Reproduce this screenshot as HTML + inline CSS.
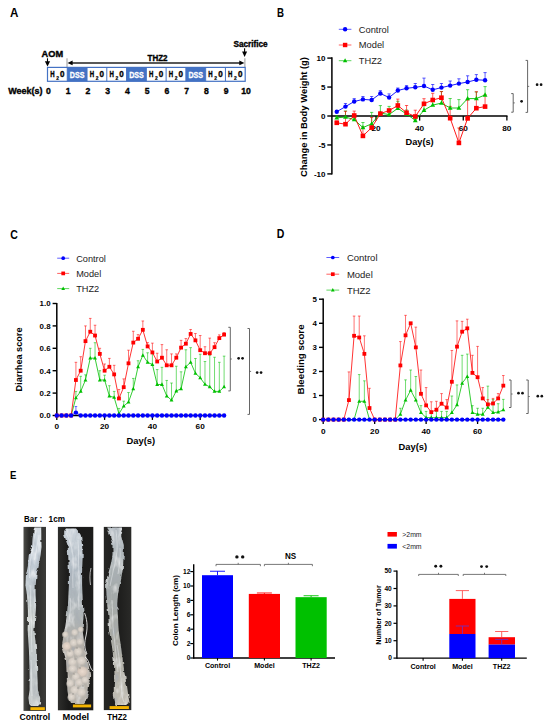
<!DOCTYPE html>
<html><head><meta charset="utf-8"><style>
html,body{margin:0;padding:0;background:#fff;}
body{width:550px;height:727px;overflow:hidden;}
svg{display:block;font-family:"Liberation Sans", sans-serif;}
</style></head><body>
<svg width="550" height="727" viewBox="0 0 550 727">
<rect width="550" height="727" fill="#fff"/>
<text x="10" y="16.6" font-size="12.5" font-weight="bold" text-anchor="start" fill="#000" textLength="8.4" lengthAdjust="spacingAndGlyphs">A</text>
<text x="41.6" y="56.8" font-size="8.6" font-weight="bold" text-anchor="start" fill="#000" textLength="21.5" lengthAdjust="spacingAndGlyphs" stroke="#000" stroke-width="0.35">AOM</text>
<line x1="47.5" y1="58.3" x2="47.5" y2="62.5" stroke="#000" stroke-width="1.1"/>
<polygon points="44.9,61.2 50.1,61.2 47.5,66.6" fill="#000"/>
<text x="233.4" y="46.8" font-size="8.6" font-weight="bold" text-anchor="start" fill="#000" textLength="34.3" lengthAdjust="spacingAndGlyphs" stroke="#000" stroke-width="0.35">Sacrifice</text>
<line x1="244.6" y1="48.3" x2="244.6" y2="53" stroke="#000" stroke-width="1.1"/>
<polygon points="242.1,51.6 247.1,51.6 244.6,57" fill="#000"/>
<line x1="67" y1="58.3" x2="67" y2="67.2" stroke="#8c8c8c" stroke-width="0.9"/>
<line x1="244.9" y1="58.3" x2="244.9" y2="67.2" stroke="#8c8c8c" stroke-width="0.9"/>
<line x1="71" y1="62.9" x2="240.5" y2="62.9" stroke="#222" stroke-width="1.5"/>
<polygon points="67.5,62.9 72.6,60.6 72.6,65.2" fill="#000"/>
<polygon points="244.4,62.9 239.3,60.6 239.3,65.2" fill="#000"/>
<text x="147.5" y="60.8" font-size="8.6" font-weight="bold" text-anchor="start" fill="#000" textLength="20" lengthAdjust="spacingAndGlyphs" stroke="#000" stroke-width="0.35">THZ2</text>
<rect x="47.5" y="67.4" width="19.77" height="13.9" fill="#fff"/>
<text x="50.18" y="77.4" font-size="8.7" font-weight="bold" text-anchor="start" fill="#000" textLength="4.4" lengthAdjust="spacingAndGlyphs" stroke="#000" stroke-width="0.35">H</text>
<text x="56.18" y="79.9" font-size="4.9" font-weight="bold" text-anchor="start" fill="#000" stroke="#000" stroke-width="0.2">2</text>
<text x="59.98" y="77.4" font-size="8.7" font-weight="bold" text-anchor="start" fill="#000" textLength="4.5" lengthAdjust="spacingAndGlyphs" stroke="#000" stroke-width="0.35">0</text>
<rect x="67.27" y="67.4" width="19.77" height="13.9" fill="#4472c4"/>
<text x="77.16" y="77.5" font-size="8.8" font-weight="bold" text-anchor="middle" fill="#fff" textLength="14.6" lengthAdjust="spacingAndGlyphs" stroke="#fff" stroke-width="0.3">DSS</text>
<rect x="87.04" y="67.4" width="19.77" height="13.9" fill="#fff"/>
<text x="89.72" y="77.4" font-size="8.7" font-weight="bold" text-anchor="start" fill="#000" textLength="4.4" lengthAdjust="spacingAndGlyphs" stroke="#000" stroke-width="0.35">H</text>
<text x="95.72" y="79.9" font-size="4.9" font-weight="bold" text-anchor="start" fill="#000" stroke="#000" stroke-width="0.2">2</text>
<text x="99.52" y="77.4" font-size="8.7" font-weight="bold" text-anchor="start" fill="#000" textLength="4.5" lengthAdjust="spacingAndGlyphs" stroke="#000" stroke-width="0.35">0</text>
<rect x="106.81" y="67.4" width="19.77" height="13.9" fill="#fff"/>
<text x="109.5" y="77.4" font-size="8.7" font-weight="bold" text-anchor="start" fill="#000" textLength="4.4" lengthAdjust="spacingAndGlyphs" stroke="#000" stroke-width="0.35">H</text>
<text x="115.5" y="79.9" font-size="4.9" font-weight="bold" text-anchor="start" fill="#000" stroke="#000" stroke-width="0.2">2</text>
<text x="119.3" y="77.4" font-size="8.7" font-weight="bold" text-anchor="start" fill="#000" textLength="4.5" lengthAdjust="spacingAndGlyphs" stroke="#000" stroke-width="0.35">0</text>
<rect x="126.58" y="67.4" width="19.77" height="13.9" fill="#4472c4"/>
<text x="136.47" y="77.5" font-size="8.8" font-weight="bold" text-anchor="middle" fill="#fff" textLength="14.6" lengthAdjust="spacingAndGlyphs" stroke="#fff" stroke-width="0.3">DSS</text>
<rect x="146.35" y="67.4" width="19.77" height="13.9" fill="#fff"/>
<text x="149.03" y="77.4" font-size="8.7" font-weight="bold" text-anchor="start" fill="#000" textLength="4.4" lengthAdjust="spacingAndGlyphs" stroke="#000" stroke-width="0.35">H</text>
<text x="155.03" y="79.9" font-size="4.9" font-weight="bold" text-anchor="start" fill="#000" stroke="#000" stroke-width="0.2">2</text>
<text x="158.83" y="77.4" font-size="8.7" font-weight="bold" text-anchor="start" fill="#000" textLength="4.5" lengthAdjust="spacingAndGlyphs" stroke="#000" stroke-width="0.35">0</text>
<rect x="166.12" y="67.4" width="19.77" height="13.9" fill="#fff"/>
<text x="168.81" y="77.4" font-size="8.7" font-weight="bold" text-anchor="start" fill="#000" textLength="4.4" lengthAdjust="spacingAndGlyphs" stroke="#000" stroke-width="0.35">H</text>
<text x="174.81" y="79.9" font-size="4.9" font-weight="bold" text-anchor="start" fill="#000" stroke="#000" stroke-width="0.2">2</text>
<text x="178.6" y="77.4" font-size="8.7" font-weight="bold" text-anchor="start" fill="#000" textLength="4.5" lengthAdjust="spacingAndGlyphs" stroke="#000" stroke-width="0.35">0</text>
<rect x="185.89" y="67.4" width="19.77" height="13.9" fill="#4472c4"/>
<text x="195.77" y="77.5" font-size="8.8" font-weight="bold" text-anchor="middle" fill="#fff" textLength="14.6" lengthAdjust="spacingAndGlyphs" stroke="#fff" stroke-width="0.3">DSS</text>
<rect x="205.66" y="67.4" width="19.77" height="13.9" fill="#fff"/>
<text x="208.34" y="77.4" font-size="8.7" font-weight="bold" text-anchor="start" fill="#000" textLength="4.4" lengthAdjust="spacingAndGlyphs" stroke="#000" stroke-width="0.35">H</text>
<text x="214.34" y="79.9" font-size="4.9" font-weight="bold" text-anchor="start" fill="#000" stroke="#000" stroke-width="0.2">2</text>
<text x="218.14" y="77.4" font-size="8.7" font-weight="bold" text-anchor="start" fill="#000" textLength="4.5" lengthAdjust="spacingAndGlyphs" stroke="#000" stroke-width="0.35">0</text>
<rect x="225.43" y="67.4" width="19.77" height="13.9" fill="#fff"/>
<text x="228.12" y="77.4" font-size="8.7" font-weight="bold" text-anchor="start" fill="#000" textLength="4.4" lengthAdjust="spacingAndGlyphs" stroke="#000" stroke-width="0.35">H</text>
<text x="234.12" y="79.9" font-size="4.9" font-weight="bold" text-anchor="start" fill="#000" stroke="#000" stroke-width="0.2">2</text>
<text x="237.91" y="77.4" font-size="8.7" font-weight="bold" text-anchor="start" fill="#000" textLength="4.5" lengthAdjust="spacingAndGlyphs" stroke="#000" stroke-width="0.35">0</text>
<rect x="47.5" y="67.4" width="197.7" height="13.9" fill="none" stroke="#4472c4" stroke-width="1.2"/>
<line x1="67.27" y1="67.4" x2="67.27" y2="81.3" stroke="#4472c4" stroke-width="1"/>
<line x1="87.04" y1="67.4" x2="87.04" y2="81.3" stroke="#4472c4" stroke-width="1"/>
<line x1="106.81" y1="67.4" x2="106.81" y2="81.3" stroke="#4472c4" stroke-width="1"/>
<line x1="126.58" y1="67.4" x2="126.58" y2="81.3" stroke="#4472c4" stroke-width="1"/>
<line x1="146.35" y1="67.4" x2="146.35" y2="81.3" stroke="#4472c4" stroke-width="1"/>
<line x1="166.12" y1="67.4" x2="166.12" y2="81.3" stroke="#4472c4" stroke-width="1"/>
<line x1="185.89" y1="67.4" x2="185.89" y2="81.3" stroke="#4472c4" stroke-width="1"/>
<line x1="205.66" y1="67.4" x2="205.66" y2="81.3" stroke="#4472c4" stroke-width="1"/>
<line x1="225.43" y1="67.4" x2="225.43" y2="81.3" stroke="#4472c4" stroke-width="1"/>
<text x="8.2" y="93.6" font-size="8.6" font-weight="bold" text-anchor="start" fill="#000" textLength="34.3" lengthAdjust="spacingAndGlyphs" stroke="#000" stroke-width="0.35">Week(s)</text>
<text x="48.3" y="93.5" font-size="8.8" font-weight="bold" text-anchor="middle" fill="#000" textLength="4.8" lengthAdjust="spacingAndGlyphs" stroke="#000" stroke-width="0.35">0</text>
<text x="68.07" y="93.5" font-size="8.8" font-weight="bold" text-anchor="middle" fill="#000" textLength="4.8" lengthAdjust="spacingAndGlyphs" stroke="#000" stroke-width="0.35">1</text>
<text x="87.84" y="93.5" font-size="8.8" font-weight="bold" text-anchor="middle" fill="#000" textLength="4.8" lengthAdjust="spacingAndGlyphs" stroke="#000" stroke-width="0.35">2</text>
<text x="107.61" y="93.5" font-size="8.8" font-weight="bold" text-anchor="middle" fill="#000" textLength="4.8" lengthAdjust="spacingAndGlyphs" stroke="#000" stroke-width="0.35">3</text>
<text x="127.38" y="93.5" font-size="8.8" font-weight="bold" text-anchor="middle" fill="#000" textLength="4.8" lengthAdjust="spacingAndGlyphs" stroke="#000" stroke-width="0.35">4</text>
<text x="147.15" y="93.5" font-size="8.8" font-weight="bold" text-anchor="middle" fill="#000" textLength="4.8" lengthAdjust="spacingAndGlyphs" stroke="#000" stroke-width="0.35">5</text>
<text x="166.92" y="93.5" font-size="8.8" font-weight="bold" text-anchor="middle" fill="#000" textLength="4.8" lengthAdjust="spacingAndGlyphs" stroke="#000" stroke-width="0.35">6</text>
<text x="186.69" y="93.5" font-size="8.8" font-weight="bold" text-anchor="middle" fill="#000" textLength="4.8" lengthAdjust="spacingAndGlyphs" stroke="#000" stroke-width="0.35">7</text>
<text x="206.46" y="93.5" font-size="8.8" font-weight="bold" text-anchor="middle" fill="#000" textLength="4.8" lengthAdjust="spacingAndGlyphs" stroke="#000" stroke-width="0.35">8</text>
<text x="226.23" y="93.5" font-size="8.8" font-weight="bold" text-anchor="middle" fill="#000" textLength="4.8" lengthAdjust="spacingAndGlyphs" stroke="#000" stroke-width="0.35">9</text>
<text x="246" y="93.5" font-size="8.8" font-weight="bold" text-anchor="middle" fill="#000" textLength="9.6" lengthAdjust="spacingAndGlyphs" stroke="#000" stroke-width="0.35">10</text>
<text x="277" y="16.5" font-size="12.5" font-weight="bold" text-anchor="start" fill="#000" textLength="7" lengthAdjust="spacingAndGlyphs">B</text>
<line x1="331.9" y1="57.2" x2="331.9" y2="174.6" stroke="#000" stroke-width="1.5"/>
<line x1="327.3" y1="58.1" x2="331.9" y2="58.1" stroke="#000" stroke-width="1.4"/>
<text x="325.5" y="61" font-size="8" font-weight="bold" text-anchor="end" fill="#000">10</text>
<line x1="327.3" y1="87.05" x2="331.9" y2="87.05" stroke="#000" stroke-width="1.4"/>
<text x="325.5" y="89.95" font-size="8" font-weight="bold" text-anchor="end" fill="#000">5</text>
<line x1="327.3" y1="116" x2="331.9" y2="116" stroke="#000" stroke-width="1.4"/>
<text x="325.5" y="118.9" font-size="8" font-weight="bold" text-anchor="end" fill="#000">0</text>
<line x1="327.3" y1="144.95" x2="331.9" y2="144.95" stroke="#000" stroke-width="1.4"/>
<text x="325.5" y="147.85" font-size="8" font-weight="bold" text-anchor="end" fill="#000">-5</text>
<line x1="327.3" y1="173.9" x2="331.9" y2="173.9" stroke="#000" stroke-width="1.4"/>
<text x="325.5" y="176.8" font-size="8" font-weight="bold" text-anchor="end" fill="#000">-10</text>
<line x1="331.9" y1="116" x2="507.5" y2="116" stroke="#000" stroke-width="1.4"/>
<line x1="376.02" y1="116" x2="376.02" y2="120.6" stroke="#000" stroke-width="1.3"/>
<line x1="419.64" y1="116" x2="419.64" y2="120.6" stroke="#000" stroke-width="1.3"/>
<line x1="463.26" y1="116" x2="463.26" y2="120.6" stroke="#000" stroke-width="1.3"/>
<line x1="506.88" y1="116" x2="506.88" y2="120.6" stroke="#000" stroke-width="1.3"/>
<text x="376.02" y="130.8" font-size="7.8" font-weight="bold" text-anchor="middle" fill="#000" textLength="9.2" lengthAdjust="spacingAndGlyphs">20</text>
<text x="419.64" y="130.8" font-size="7.8" font-weight="bold" text-anchor="middle" fill="#000" textLength="9.2" lengthAdjust="spacingAndGlyphs">40</text>
<text x="463.26" y="130.8" font-size="7.8" font-weight="bold" text-anchor="middle" fill="#000" textLength="9.2" lengthAdjust="spacingAndGlyphs">60</text>
<text x="506.88" y="130.8" font-size="7.8" font-weight="bold" text-anchor="middle" fill="#000" textLength="9.2" lengthAdjust="spacingAndGlyphs">80</text>
<text x="419.6" y="144.8" font-size="9.3" font-weight="bold" text-anchor="middle" fill="#000" textLength="28.2" lengthAdjust="spacingAndGlyphs">Day(s)</text>
<text transform="translate(307.0,117) rotate(-90)" font-size="9.4" font-weight="bold" text-anchor="middle" textLength="120" lengthAdjust="spacingAndGlyphs">Change in Body Weight (g)</text>
<line x1="338.8" y1="29.3" x2="351.4" y2="29.3" stroke="#0000ff" stroke-width="0.9" stroke-opacity="0.7"/>
<circle cx="345.1" cy="29.3" r="2.2" fill="#0000ff"/>
<text x="358.8" y="32.65" font-size="9.3" text-anchor="start" fill="#222">Control</text>
<line x1="338.8" y1="45" x2="351.4" y2="45" stroke="#ff0000" stroke-width="0.9" stroke-opacity="0.7"/>
<rect x="342.9" y="42.8" width="4.4" height="4.4" fill="#ff0000"/>
<text x="358.8" y="48.35" font-size="9.3" text-anchor="start" fill="#222">Model</text>
<line x1="338.8" y1="60.7" x2="351.4" y2="60.7" stroke="#00c000" stroke-width="0.9" stroke-opacity="0.7"/>
<polygon points="345.1,58.32 342.9,62.28 347.3,62.28" fill="#00c000"/>
<text x="358.8" y="64.05" font-size="9.3" text-anchor="start" fill="#222">THZ2</text>
<line x1="336.76" y1="117.8" x2="336.76" y2="116" stroke="#00c000" stroke-width="0.8" stroke-opacity="0.8"/>
<line x1="335.16" y1="116" x2="338.36" y2="116" stroke="#00c000" stroke-width="0.8" stroke-opacity="0.8"/>
<line x1="345.49" y1="117.1" x2="345.49" y2="111" stroke="#00c000" stroke-width="0.8" stroke-opacity="0.8"/>
<line x1="343.89" y1="111" x2="347.09" y2="111" stroke="#00c000" stroke-width="0.8" stroke-opacity="0.8"/>
<line x1="354.21" y1="119.6" x2="354.21" y2="117" stroke="#00c000" stroke-width="0.8" stroke-opacity="0.8"/>
<line x1="352.61" y1="117" x2="355.81" y2="117" stroke="#00c000" stroke-width="0.8" stroke-opacity="0.8"/>
<line x1="362.93" y1="127.6" x2="362.93" y2="122.5" stroke="#00c000" stroke-width="0.8" stroke-opacity="0.8"/>
<line x1="361.33" y1="122.5" x2="364.53" y2="122.5" stroke="#00c000" stroke-width="0.8" stroke-opacity="0.8"/>
<line x1="371.66" y1="123.8" x2="371.66" y2="112.4" stroke="#00c000" stroke-width="0.8" stroke-opacity="0.8"/>
<line x1="370.06" y1="112.4" x2="373.26" y2="112.4" stroke="#00c000" stroke-width="0.8" stroke-opacity="0.8"/>
<line x1="380.38" y1="113.2" x2="380.38" y2="105.6" stroke="#00c000" stroke-width="0.8" stroke-opacity="0.8"/>
<line x1="378.78" y1="105.6" x2="381.98" y2="105.6" stroke="#00c000" stroke-width="0.8" stroke-opacity="0.8"/>
<line x1="389.11" y1="114.5" x2="389.11" y2="106.4" stroke="#00c000" stroke-width="0.8" stroke-opacity="0.8"/>
<line x1="387.51" y1="106.4" x2="390.71" y2="106.4" stroke="#00c000" stroke-width="0.8" stroke-opacity="0.8"/>
<line x1="397.83" y1="108.3" x2="397.83" y2="101.3" stroke="#00c000" stroke-width="0.8" stroke-opacity="0.8"/>
<line x1="396.23" y1="101.3" x2="399.43" y2="101.3" stroke="#00c000" stroke-width="0.8" stroke-opacity="0.8"/>
<line x1="406.55" y1="114" x2="406.55" y2="110" stroke="#00c000" stroke-width="0.8" stroke-opacity="0.8"/>
<line x1="404.95" y1="110" x2="408.15" y2="110" stroke="#00c000" stroke-width="0.8" stroke-opacity="0.8"/>
<line x1="415.28" y1="120.4" x2="415.28" y2="116" stroke="#00c000" stroke-width="0.8" stroke-opacity="0.8"/>
<line x1="413.68" y1="116" x2="416.88" y2="116" stroke="#00c000" stroke-width="0.8" stroke-opacity="0.8"/>
<line x1="424" y1="110.2" x2="424" y2="105" stroke="#00c000" stroke-width="0.8" stroke-opacity="0.8"/>
<line x1="422.4" y1="105" x2="425.6" y2="105" stroke="#00c000" stroke-width="0.8" stroke-opacity="0.8"/>
<line x1="432.73" y1="105.1" x2="432.73" y2="100" stroke="#00c000" stroke-width="0.8" stroke-opacity="0.8"/>
<line x1="431.13" y1="100" x2="434.33" y2="100" stroke="#00c000" stroke-width="0.8" stroke-opacity="0.8"/>
<line x1="441.45" y1="103.1" x2="441.45" y2="91.5" stroke="#00c000" stroke-width="0.8" stroke-opacity="0.8"/>
<line x1="439.85" y1="91.5" x2="443.05" y2="91.5" stroke="#00c000" stroke-width="0.8" stroke-opacity="0.8"/>
<line x1="450.17" y1="108" x2="450.17" y2="98.5" stroke="#00c000" stroke-width="0.8" stroke-opacity="0.8"/>
<line x1="448.57" y1="98.5" x2="451.77" y2="98.5" stroke="#00c000" stroke-width="0.8" stroke-opacity="0.8"/>
<line x1="458.9" y1="108" x2="458.9" y2="99.6" stroke="#00c000" stroke-width="0.8" stroke-opacity="0.8"/>
<line x1="457.3" y1="99.6" x2="460.5" y2="99.6" stroke="#00c000" stroke-width="0.8" stroke-opacity="0.8"/>
<line x1="467.62" y1="98.6" x2="467.62" y2="89.7" stroke="#00c000" stroke-width="0.8" stroke-opacity="0.8"/>
<line x1="466.02" y1="89.7" x2="469.22" y2="89.7" stroke="#00c000" stroke-width="0.8" stroke-opacity="0.8"/>
<line x1="476.35" y1="98.6" x2="476.35" y2="92" stroke="#00c000" stroke-width="0.8" stroke-opacity="0.8"/>
<line x1="474.75" y1="92" x2="477.95" y2="92" stroke="#00c000" stroke-width="0.8" stroke-opacity="0.8"/>
<line x1="485.07" y1="94.9" x2="485.07" y2="86.6" stroke="#00c000" stroke-width="0.8" stroke-opacity="0.8"/>
<line x1="483.47" y1="86.6" x2="486.67" y2="86.6" stroke="#00c000" stroke-width="0.8" stroke-opacity="0.8"/>
<line x1="336.76" y1="122.8" x2="336.76" y2="121" stroke="#ff0000" stroke-width="0.8" stroke-opacity="0.8"/>
<line x1="335.16" y1="121" x2="338.36" y2="121" stroke="#ff0000" stroke-width="0.8" stroke-opacity="0.8"/>
<line x1="345.49" y1="124.2" x2="345.49" y2="111.3" stroke="#ff0000" stroke-width="0.8" stroke-opacity="0.8"/>
<line x1="343.89" y1="111.3" x2="347.09" y2="111.3" stroke="#ff0000" stroke-width="0.8" stroke-opacity="0.8"/>
<line x1="354.21" y1="115.5" x2="354.21" y2="111.1" stroke="#ff0000" stroke-width="0.8" stroke-opacity="0.8"/>
<line x1="352.61" y1="111.1" x2="355.81" y2="111.1" stroke="#ff0000" stroke-width="0.8" stroke-opacity="0.8"/>
<line x1="362.93" y1="135.9" x2="362.93" y2="127" stroke="#ff0000" stroke-width="0.8" stroke-opacity="0.8"/>
<line x1="361.33" y1="127" x2="364.53" y2="127" stroke="#ff0000" stroke-width="0.8" stroke-opacity="0.8"/>
<line x1="371.66" y1="127.6" x2="371.66" y2="117.5" stroke="#ff0000" stroke-width="0.8" stroke-opacity="0.8"/>
<line x1="370.06" y1="117.5" x2="373.26" y2="117.5" stroke="#ff0000" stroke-width="0.8" stroke-opacity="0.8"/>
<line x1="397.83" y1="105.5" x2="397.83" y2="99.1" stroke="#ff0000" stroke-width="0.8" stroke-opacity="0.8"/>
<line x1="396.23" y1="99.1" x2="399.43" y2="99.1" stroke="#ff0000" stroke-width="0.8" stroke-opacity="0.8"/>
<line x1="406.55" y1="112.7" x2="406.55" y2="105.5" stroke="#ff0000" stroke-width="0.8" stroke-opacity="0.8"/>
<line x1="404.95" y1="105.5" x2="408.15" y2="105.5" stroke="#ff0000" stroke-width="0.8" stroke-opacity="0.8"/>
<line x1="415.28" y1="116.5" x2="415.28" y2="110.2" stroke="#ff0000" stroke-width="0.8" stroke-opacity="0.8"/>
<line x1="413.68" y1="110.2" x2="416.88" y2="110.2" stroke="#ff0000" stroke-width="0.8" stroke-opacity="0.8"/>
<line x1="424" y1="103.8" x2="424" y2="98.7" stroke="#ff0000" stroke-width="0.8" stroke-opacity="0.8"/>
<line x1="422.4" y1="98.7" x2="425.6" y2="98.7" stroke="#ff0000" stroke-width="0.8" stroke-opacity="0.8"/>
<line x1="432.73" y1="100" x2="432.73" y2="93.3" stroke="#ff0000" stroke-width="0.8" stroke-opacity="0.8"/>
<line x1="431.13" y1="93.3" x2="434.33" y2="93.3" stroke="#ff0000" stroke-width="0.8" stroke-opacity="0.8"/>
<line x1="441.45" y1="97.7" x2="441.45" y2="91.6" stroke="#ff0000" stroke-width="0.8" stroke-opacity="0.8"/>
<line x1="439.85" y1="91.6" x2="443.05" y2="91.6" stroke="#ff0000" stroke-width="0.8" stroke-opacity="0.8"/>
<line x1="450.17" y1="118.2" x2="450.17" y2="106.4" stroke="#ff0000" stroke-width="0.8" stroke-opacity="0.8"/>
<line x1="448.57" y1="106.4" x2="451.77" y2="106.4" stroke="#ff0000" stroke-width="0.8" stroke-opacity="0.8"/>
<line x1="458.9" y1="142.9" x2="458.9" y2="128" stroke="#ff0000" stroke-width="0.8" stroke-opacity="0.8"/>
<line x1="457.3" y1="128" x2="460.5" y2="128" stroke="#ff0000" stroke-width="0.8" stroke-opacity="0.8"/>
<line x1="467.62" y1="118.4" x2="467.62" y2="100.2" stroke="#ff0000" stroke-width="0.8" stroke-opacity="0.8"/>
<line x1="466.02" y1="100.2" x2="469.22" y2="100.2" stroke="#ff0000" stroke-width="0.8" stroke-opacity="0.8"/>
<line x1="476.35" y1="108.2" x2="476.35" y2="91.7" stroke="#ff0000" stroke-width="0.8" stroke-opacity="0.8"/>
<line x1="474.75" y1="91.7" x2="477.95" y2="91.7" stroke="#ff0000" stroke-width="0.8" stroke-opacity="0.8"/>
<line x1="485.07" y1="106.6" x2="485.07" y2="94.8" stroke="#ff0000" stroke-width="0.8" stroke-opacity="0.8"/>
<line x1="483.47" y1="94.8" x2="486.67" y2="94.8" stroke="#ff0000" stroke-width="0.8" stroke-opacity="0.8"/>
<line x1="336.76" y1="111.7" x2="336.76" y2="110.5" stroke="#0000ff" stroke-width="0.8" stroke-opacity="0.8"/>
<line x1="335.16" y1="110.5" x2="338.36" y2="110.5" stroke="#0000ff" stroke-width="0.8" stroke-opacity="0.8"/>
<line x1="345.49" y1="106.6" x2="345.49" y2="103.5" stroke="#0000ff" stroke-width="0.8" stroke-opacity="0.8"/>
<line x1="343.89" y1="103.5" x2="347.09" y2="103.5" stroke="#0000ff" stroke-width="0.8" stroke-opacity="0.8"/>
<line x1="354.21" y1="101.5" x2="354.21" y2="98.6" stroke="#0000ff" stroke-width="0.8" stroke-opacity="0.8"/>
<line x1="352.61" y1="98.6" x2="355.81" y2="98.6" stroke="#0000ff" stroke-width="0.8" stroke-opacity="0.8"/>
<line x1="362.93" y1="99.4" x2="362.93" y2="96.5" stroke="#0000ff" stroke-width="0.8" stroke-opacity="0.8"/>
<line x1="361.33" y1="96.5" x2="364.53" y2="96.5" stroke="#0000ff" stroke-width="0.8" stroke-opacity="0.8"/>
<line x1="371.66" y1="100" x2="371.66" y2="96.5" stroke="#0000ff" stroke-width="0.8" stroke-opacity="0.8"/>
<line x1="370.06" y1="96.5" x2="373.26" y2="96.5" stroke="#0000ff" stroke-width="0.8" stroke-opacity="0.8"/>
<line x1="380.38" y1="93.5" x2="380.38" y2="90.7" stroke="#0000ff" stroke-width="0.8" stroke-opacity="0.8"/>
<line x1="378.78" y1="90.7" x2="381.98" y2="90.7" stroke="#0000ff" stroke-width="0.8" stroke-opacity="0.8"/>
<line x1="389.11" y1="97.5" x2="389.11" y2="93.9" stroke="#0000ff" stroke-width="0.8" stroke-opacity="0.8"/>
<line x1="387.51" y1="93.9" x2="390.71" y2="93.9" stroke="#0000ff" stroke-width="0.8" stroke-opacity="0.8"/>
<line x1="397.83" y1="90.5" x2="397.83" y2="88" stroke="#0000ff" stroke-width="0.8" stroke-opacity="0.8"/>
<line x1="396.23" y1="88" x2="399.43" y2="88" stroke="#0000ff" stroke-width="0.8" stroke-opacity="0.8"/>
<line x1="406.55" y1="88.3" x2="406.55" y2="85.6" stroke="#0000ff" stroke-width="0.8" stroke-opacity="0.8"/>
<line x1="404.95" y1="85.6" x2="408.15" y2="85.6" stroke="#0000ff" stroke-width="0.8" stroke-opacity="0.8"/>
<line x1="415.28" y1="87.3" x2="415.28" y2="83.5" stroke="#0000ff" stroke-width="0.8" stroke-opacity="0.8"/>
<line x1="413.68" y1="83.5" x2="416.88" y2="83.5" stroke="#0000ff" stroke-width="0.8" stroke-opacity="0.8"/>
<line x1="424" y1="86" x2="424" y2="78.1" stroke="#0000ff" stroke-width="0.8" stroke-opacity="0.8"/>
<line x1="422.4" y1="78.1" x2="425.6" y2="78.1" stroke="#0000ff" stroke-width="0.8" stroke-opacity="0.8"/>
<line x1="432.73" y1="89.8" x2="432.73" y2="84.5" stroke="#0000ff" stroke-width="0.8" stroke-opacity="0.8"/>
<line x1="431.13" y1="84.5" x2="434.33" y2="84.5" stroke="#0000ff" stroke-width="0.8" stroke-opacity="0.8"/>
<line x1="441.45" y1="87.6" x2="441.45" y2="83.5" stroke="#0000ff" stroke-width="0.8" stroke-opacity="0.8"/>
<line x1="439.85" y1="83.5" x2="443.05" y2="83.5" stroke="#0000ff" stroke-width="0.8" stroke-opacity="0.8"/>
<line x1="450.17" y1="85.6" x2="450.17" y2="81" stroke="#0000ff" stroke-width="0.8" stroke-opacity="0.8"/>
<line x1="448.57" y1="81" x2="451.77" y2="81" stroke="#0000ff" stroke-width="0.8" stroke-opacity="0.8"/>
<line x1="458.9" y1="83.6" x2="458.9" y2="78.8" stroke="#0000ff" stroke-width="0.8" stroke-opacity="0.8"/>
<line x1="457.3" y1="78.8" x2="460.5" y2="78.8" stroke="#0000ff" stroke-width="0.8" stroke-opacity="0.8"/>
<line x1="467.62" y1="82" x2="467.62" y2="75.8" stroke="#0000ff" stroke-width="0.8" stroke-opacity="0.8"/>
<line x1="466.02" y1="75.8" x2="469.22" y2="75.8" stroke="#0000ff" stroke-width="0.8" stroke-opacity="0.8"/>
<line x1="476.35" y1="79.8" x2="476.35" y2="74.6" stroke="#0000ff" stroke-width="0.8" stroke-opacity="0.8"/>
<line x1="474.75" y1="74.6" x2="477.95" y2="74.6" stroke="#0000ff" stroke-width="0.8" stroke-opacity="0.8"/>
<line x1="485.07" y1="80.2" x2="485.07" y2="72.6" stroke="#0000ff" stroke-width="0.8" stroke-opacity="0.8"/>
<line x1="483.47" y1="72.6" x2="486.67" y2="72.6" stroke="#0000ff" stroke-width="0.8" stroke-opacity="0.8"/>
<path d="M336.76,117.8 L345.49,117.1 L354.21,119.6 L362.93,127.6 L371.66,123.8 L380.38,113.2 L389.11,114.5 L397.83,108.3 L406.55,114 L415.28,120.4 L424,110.2 L432.73,105.1 L441.45,103.1 L450.17,108 L458.9,108 L467.62,98.6 L476.35,98.6 L485.07,94.9" fill="none" stroke="#00c000" stroke-width="0.9" stroke-linejoin="round"/>
<path d="M336.76,122.8 L345.49,124.2 L354.21,115.5 L362.93,135.9 L371.66,127.6 L380.38,113.6 L389.11,110.5 L397.83,105.5 L406.55,112.7 L415.28,116.5 L424,103.8 L432.73,100 L441.45,97.7 L450.17,118.2 L458.9,142.9 L467.62,118.4 L476.35,108.2 L485.07,106.6" fill="none" stroke="#ff0000" stroke-width="0.9" stroke-linejoin="round"/>
<path d="M336.76,111.7 L345.49,106.6 L354.21,101.5 L362.93,99.4 L371.66,100 L380.38,93.5 L389.11,97.5 L397.83,90.5 L406.55,88.3 L415.28,87.3 L424,86 L432.73,89.8 L441.45,87.6 L450.17,85.6 L458.9,83.6 L467.62,82 L476.35,79.8 L485.07,80.2" fill="none" stroke="#0000ff" stroke-width="0.9" stroke-linejoin="round"/>
<polygon points="336.76,115.21 334.36,119.53 339.16,119.53" fill="#00c000"/>
<polygon points="345.49,114.51 343.09,118.83 347.89,118.83" fill="#00c000"/>
<polygon points="354.21,117.01 351.81,121.33 356.61,121.33" fill="#00c000"/>
<polygon points="362.93,125.01 360.53,129.33 365.33,129.33" fill="#00c000"/>
<polygon points="371.66,121.21 369.26,125.53 374.06,125.53" fill="#00c000"/>
<polygon points="380.38,110.61 377.98,114.93 382.78,114.93" fill="#00c000"/>
<polygon points="389.11,111.91 386.71,116.23 391.51,116.23" fill="#00c000"/>
<polygon points="397.83,105.71 395.43,110.03 400.23,110.03" fill="#00c000"/>
<polygon points="406.55,111.41 404.15,115.73 408.95,115.73" fill="#00c000"/>
<polygon points="415.28,117.81 412.88,122.13 417.68,122.13" fill="#00c000"/>
<polygon points="424,107.61 421.6,111.93 426.4,111.93" fill="#00c000"/>
<polygon points="432.73,102.51 430.33,106.83 435.13,106.83" fill="#00c000"/>
<polygon points="441.45,100.51 439.05,104.83 443.85,104.83" fill="#00c000"/>
<polygon points="450.17,105.41 447.77,109.73 452.57,109.73" fill="#00c000"/>
<polygon points="458.9,105.41 456.5,109.73 461.3,109.73" fill="#00c000"/>
<polygon points="467.62,96.01 465.22,100.33 470.02,100.33" fill="#00c000"/>
<polygon points="476.35,96.01 473.95,100.33 478.75,100.33" fill="#00c000"/>
<polygon points="485.07,92.31 482.67,96.63 487.47,96.63" fill="#00c000"/>
<rect x="334.46" y="120.5" width="4.6" height="4.6" fill="#ff0000"/>
<rect x="343.19" y="121.9" width="4.6" height="4.6" fill="#ff0000"/>
<rect x="351.91" y="113.2" width="4.6" height="4.6" fill="#ff0000"/>
<rect x="360.63" y="133.6" width="4.6" height="4.6" fill="#ff0000"/>
<rect x="369.36" y="125.3" width="4.6" height="4.6" fill="#ff0000"/>
<rect x="378.08" y="111.3" width="4.6" height="4.6" fill="#ff0000"/>
<rect x="386.81" y="108.2" width="4.6" height="4.6" fill="#ff0000"/>
<rect x="395.53" y="103.2" width="4.6" height="4.6" fill="#ff0000"/>
<rect x="404.25" y="110.4" width="4.6" height="4.6" fill="#ff0000"/>
<rect x="412.98" y="114.2" width="4.6" height="4.6" fill="#ff0000"/>
<rect x="421.7" y="101.5" width="4.6" height="4.6" fill="#ff0000"/>
<rect x="430.43" y="97.7" width="4.6" height="4.6" fill="#ff0000"/>
<rect x="439.15" y="95.4" width="4.6" height="4.6" fill="#ff0000"/>
<rect x="447.87" y="115.9" width="4.6" height="4.6" fill="#ff0000"/>
<rect x="456.6" y="140.6" width="4.6" height="4.6" fill="#ff0000"/>
<rect x="465.32" y="116.1" width="4.6" height="4.6" fill="#ff0000"/>
<rect x="474.05" y="105.9" width="4.6" height="4.6" fill="#ff0000"/>
<rect x="482.77" y="104.3" width="4.6" height="4.6" fill="#ff0000"/>
<circle cx="336.76" cy="111.7" r="2.2" fill="#0000ff"/>
<circle cx="345.49" cy="106.6" r="2.2" fill="#0000ff"/>
<circle cx="354.21" cy="101.5" r="2.2" fill="#0000ff"/>
<circle cx="362.93" cy="99.4" r="2.2" fill="#0000ff"/>
<circle cx="371.66" cy="100" r="2.2" fill="#0000ff"/>
<circle cx="380.38" cy="93.5" r="2.2" fill="#0000ff"/>
<circle cx="389.11" cy="97.5" r="2.2" fill="#0000ff"/>
<circle cx="397.83" cy="90.5" r="2.2" fill="#0000ff"/>
<circle cx="406.55" cy="88.3" r="2.2" fill="#0000ff"/>
<circle cx="415.28" cy="87.3" r="2.2" fill="#0000ff"/>
<circle cx="424" cy="86" r="2.2" fill="#0000ff"/>
<circle cx="432.73" cy="89.8" r="2.2" fill="#0000ff"/>
<circle cx="441.45" cy="87.6" r="2.2" fill="#0000ff"/>
<circle cx="450.17" cy="85.6" r="2.2" fill="#0000ff"/>
<circle cx="458.9" cy="83.6" r="2.2" fill="#0000ff"/>
<circle cx="467.62" cy="82" r="2.2" fill="#0000ff"/>
<circle cx="476.35" cy="79.8" r="2.2" fill="#0000ff"/>
<circle cx="485.07" cy="80.2" r="2.2" fill="#0000ff"/>
<path d="M525.6,60.4 H527.6 V112.4 H525.6" fill="none" stroke="#555" stroke-width="0.9"/>
<line x1="527.6" y1="86.4" x2="529.2" y2="86.4" stroke="#555" stroke-width="0.8"/>
<circle cx="537.1" cy="84.7" r="1.35" fill="#111"/>
<circle cx="541.1" cy="84.7" r="1.35" fill="#111"/>
<path d="M511.2,93.6 H513.2 V112.2 H511.2" fill="none" stroke="#555" stroke-width="0.9"/>
<line x1="513.2" y1="102.9" x2="514.8" y2="102.9" stroke="#555" stroke-width="0.8"/>
<circle cx="521.6" cy="101.3" r="1.35" fill="#111"/>
<text x="10.3" y="238.8" font-size="12.5" font-weight="bold" text-anchor="start" fill="#000" textLength="7.6" lengthAdjust="spacingAndGlyphs">C</text>
<line x1="56.8" y1="302.9" x2="56.8" y2="416.1" stroke="#000" stroke-width="1.5"/>
<line x1="52.6" y1="415.5" x2="56.8" y2="415.5" stroke="#000" stroke-width="1.4"/>
<text x="50.6" y="418.3" font-size="7.9" font-weight="bold" text-anchor="end" fill="#000">0.0</text>
<line x1="52.6" y1="393.1" x2="56.8" y2="393.1" stroke="#000" stroke-width="1.4"/>
<text x="50.6" y="395.9" font-size="7.9" font-weight="bold" text-anchor="end" fill="#000">0.2</text>
<line x1="52.6" y1="370.7" x2="56.8" y2="370.7" stroke="#000" stroke-width="1.4"/>
<text x="50.6" y="373.5" font-size="7.9" font-weight="bold" text-anchor="end" fill="#000">0.4</text>
<line x1="52.6" y1="348.3" x2="56.8" y2="348.3" stroke="#000" stroke-width="1.4"/>
<text x="50.6" y="351.1" font-size="7.9" font-weight="bold" text-anchor="end" fill="#000">0.6</text>
<line x1="52.6" y1="325.9" x2="56.8" y2="325.9" stroke="#000" stroke-width="1.4"/>
<text x="50.6" y="328.7" font-size="7.9" font-weight="bold" text-anchor="end" fill="#000">0.8</text>
<line x1="52.6" y1="303.5" x2="56.8" y2="303.5" stroke="#000" stroke-width="1.4"/>
<text x="50.6" y="306.3" font-size="7.9" font-weight="bold" text-anchor="end" fill="#000">1.0</text>
<line x1="56.8" y1="415.5" x2="225.6" y2="415.5" stroke="#000" stroke-width="1.4"/>
<line x1="56.8" y1="415.5" x2="56.8" y2="419.9" stroke="#000" stroke-width="1.3"/>
<line x1="104.6" y1="415.5" x2="104.6" y2="419.9" stroke="#000" stroke-width="1.3"/>
<line x1="152.4" y1="415.5" x2="152.4" y2="419.9" stroke="#000" stroke-width="1.3"/>
<line x1="200.2" y1="415.5" x2="200.2" y2="419.9" stroke="#000" stroke-width="1.3"/>
<text x="56.8" y="428.8" font-size="7.8" font-weight="bold" text-anchor="middle" fill="#000" textLength="4.6" lengthAdjust="spacingAndGlyphs">0</text>
<text x="104.6" y="428.8" font-size="7.8" font-weight="bold" text-anchor="middle" fill="#000" textLength="9.2" lengthAdjust="spacingAndGlyphs">20</text>
<text x="152.4" y="428.8" font-size="7.8" font-weight="bold" text-anchor="middle" fill="#000" textLength="9.2" lengthAdjust="spacingAndGlyphs">40</text>
<text x="200.2" y="428.8" font-size="7.8" font-weight="bold" text-anchor="middle" fill="#000" textLength="9.2" lengthAdjust="spacingAndGlyphs">60</text>
<text x="140.8" y="443.6" font-size="9.3" font-weight="bold" text-anchor="middle" fill="#000" textLength="28.6" lengthAdjust="spacingAndGlyphs">Day(s)</text>
<text transform="translate(22.2,359.5) rotate(-90)" font-size="9.4" font-weight="bold" text-anchor="middle" textLength="64" lengthAdjust="spacingAndGlyphs">Diarrhea score</text>
<line x1="57.2" y1="258.2" x2="69.2" y2="258.2" stroke="#0000ff" stroke-width="0.9" stroke-opacity="0.7"/>
<circle cx="63.2" cy="258.2" r="1.85" fill="#0000ff"/>
<text x="76.2" y="261.51" font-size="9.2" text-anchor="start" fill="#222">Control</text>
<line x1="57.2" y1="273.4" x2="69.2" y2="273.4" stroke="#ff0000" stroke-width="0.9" stroke-opacity="0.7"/>
<rect x="61.35" y="271.55" width="3.7" height="3.7" fill="#ff0000"/>
<text x="76.2" y="276.71" font-size="9.2" text-anchor="start" fill="#222">Model</text>
<line x1="57.2" y1="288.6" x2="69.2" y2="288.6" stroke="#00c000" stroke-width="0.9" stroke-opacity="0.7"/>
<polygon points="63.2,286.6 61.35,289.93 65.05,289.93" fill="#00c000"/>
<text x="76.2" y="291.91" font-size="9.2" text-anchor="start" fill="#222">THZ2</text>
<line x1="75.92" y1="397.8" x2="75.92" y2="391.42" stroke="#00c000" stroke-width="0.7" stroke-opacity="0.8"/>
<line x1="74.62" y1="391.42" x2="77.22" y2="391.42" stroke="#00c000" stroke-width="0.7" stroke-opacity="0.8"/>
<line x1="80.7" y1="391.42" x2="80.7" y2="376.3" stroke="#00c000" stroke-width="0.7" stroke-opacity="0.8"/>
<line x1="79.4" y1="376.3" x2="82" y2="376.3" stroke="#00c000" stroke-width="0.7" stroke-opacity="0.8"/>
<line x1="85.48" y1="380" x2="85.48" y2="374.84" stroke="#00c000" stroke-width="0.7" stroke-opacity="0.8"/>
<line x1="84.18" y1="374.84" x2="86.78" y2="374.84" stroke="#00c000" stroke-width="0.7" stroke-opacity="0.8"/>
<line x1="90.26" y1="358.16" x2="90.26" y2="348.3" stroke="#00c000" stroke-width="0.7" stroke-opacity="0.8"/>
<line x1="88.96" y1="348.3" x2="91.56" y2="348.3" stroke="#00c000" stroke-width="0.7" stroke-opacity="0.8"/>
<line x1="95.04" y1="358.16" x2="95.04" y2="342.7" stroke="#00c000" stroke-width="0.7" stroke-opacity="0.8"/>
<line x1="93.74" y1="342.7" x2="96.34" y2="342.7" stroke="#00c000" stroke-width="0.7" stroke-opacity="0.8"/>
<line x1="99.82" y1="380" x2="99.82" y2="370.7" stroke="#00c000" stroke-width="0.7" stroke-opacity="0.8"/>
<line x1="98.52" y1="370.7" x2="101.12" y2="370.7" stroke="#00c000" stroke-width="0.7" stroke-opacity="0.8"/>
<line x1="104.6" y1="380" x2="104.6" y2="375.18" stroke="#00c000" stroke-width="0.7" stroke-opacity="0.8"/>
<line x1="103.3" y1="375.18" x2="105.9" y2="375.18" stroke="#00c000" stroke-width="0.7" stroke-opacity="0.8"/>
<line x1="109.38" y1="396.01" x2="109.38" y2="385.71" stroke="#00c000" stroke-width="0.7" stroke-opacity="0.8"/>
<line x1="108.08" y1="385.71" x2="110.68" y2="385.71" stroke="#00c000" stroke-width="0.7" stroke-opacity="0.8"/>
<line x1="114.16" y1="397.47" x2="114.16" y2="391.42" stroke="#00c000" stroke-width="0.7" stroke-opacity="0.8"/>
<line x1="112.86" y1="391.42" x2="115.46" y2="391.42" stroke="#00c000" stroke-width="0.7" stroke-opacity="0.8"/>
<line x1="118.94" y1="413.71" x2="118.94" y2="408.44" stroke="#00c000" stroke-width="0.7" stroke-opacity="0.8"/>
<line x1="117.64" y1="408.44" x2="120.24" y2="408.44" stroke="#00c000" stroke-width="0.7" stroke-opacity="0.8"/>
<line x1="123.72" y1="406.09" x2="123.72" y2="401.16" stroke="#00c000" stroke-width="0.7" stroke-opacity="0.8"/>
<line x1="122.42" y1="401.16" x2="125.02" y2="401.16" stroke="#00c000" stroke-width="0.7" stroke-opacity="0.8"/>
<line x1="128.5" y1="402.06" x2="128.5" y2="392.54" stroke="#00c000" stroke-width="0.7" stroke-opacity="0.8"/>
<line x1="127.2" y1="392.54" x2="129.8" y2="392.54" stroke="#00c000" stroke-width="0.7" stroke-opacity="0.8"/>
<line x1="133.28" y1="388.73" x2="133.28" y2="378.43" stroke="#00c000" stroke-width="0.7" stroke-opacity="0.8"/>
<line x1="131.98" y1="378.43" x2="134.58" y2="378.43" stroke="#00c000" stroke-width="0.7" stroke-opacity="0.8"/>
<line x1="138.06" y1="366.78" x2="138.06" y2="360.73" stroke="#00c000" stroke-width="0.7" stroke-opacity="0.8"/>
<line x1="136.76" y1="360.73" x2="139.36" y2="360.73" stroke="#00c000" stroke-width="0.7" stroke-opacity="0.8"/>
<line x1="142.84" y1="355.24" x2="142.84" y2="349.42" stroke="#00c000" stroke-width="0.7" stroke-opacity="0.8"/>
<line x1="141.54" y1="349.42" x2="144.14" y2="349.42" stroke="#00c000" stroke-width="0.7" stroke-opacity="0.8"/>
<line x1="147.62" y1="362.3" x2="147.62" y2="352.78" stroke="#00c000" stroke-width="0.7" stroke-opacity="0.8"/>
<line x1="146.32" y1="352.78" x2="148.92" y2="352.78" stroke="#00c000" stroke-width="0.7" stroke-opacity="0.8"/>
<line x1="152.4" y1="364.54" x2="152.4" y2="352.44" stroke="#00c000" stroke-width="0.7" stroke-opacity="0.8"/>
<line x1="151.1" y1="352.44" x2="153.7" y2="352.44" stroke="#00c000" stroke-width="0.7" stroke-opacity="0.8"/>
<line x1="157.18" y1="384.48" x2="157.18" y2="369.58" stroke="#00c000" stroke-width="0.7" stroke-opacity="0.8"/>
<line x1="155.88" y1="369.58" x2="158.48" y2="369.58" stroke="#00c000" stroke-width="0.7" stroke-opacity="0.8"/>
<line x1="161.96" y1="384.48" x2="161.96" y2="367.34" stroke="#00c000" stroke-width="0.7" stroke-opacity="0.8"/>
<line x1="160.66" y1="367.34" x2="163.26" y2="367.34" stroke="#00c000" stroke-width="0.7" stroke-opacity="0.8"/>
<line x1="166.74" y1="396.01" x2="166.74" y2="380.44" stroke="#00c000" stroke-width="0.7" stroke-opacity="0.8"/>
<line x1="165.44" y1="380.44" x2="168.04" y2="380.44" stroke="#00c000" stroke-width="0.7" stroke-opacity="0.8"/>
<line x1="171.52" y1="400.16" x2="171.52" y2="383.02" stroke="#00c000" stroke-width="0.7" stroke-opacity="0.8"/>
<line x1="170.22" y1="383.02" x2="172.82" y2="383.02" stroke="#00c000" stroke-width="0.7" stroke-opacity="0.8"/>
<line x1="176.3" y1="390.97" x2="176.3" y2="366.22" stroke="#00c000" stroke-width="0.7" stroke-opacity="0.8"/>
<line x1="175" y1="366.22" x2="177.6" y2="366.22" stroke="#00c000" stroke-width="0.7" stroke-opacity="0.8"/>
<line x1="181.08" y1="388.73" x2="181.08" y2="371.82" stroke="#00c000" stroke-width="0.7" stroke-opacity="0.8"/>
<line x1="179.78" y1="371.82" x2="182.38" y2="371.82" stroke="#00c000" stroke-width="0.7" stroke-opacity="0.8"/>
<line x1="185.86" y1="366.78" x2="185.86" y2="349.76" stroke="#00c000" stroke-width="0.7" stroke-opacity="0.8"/>
<line x1="184.56" y1="349.76" x2="187.16" y2="349.76" stroke="#00c000" stroke-width="0.7" stroke-opacity="0.8"/>
<line x1="190.64" y1="362.3" x2="190.64" y2="347.63" stroke="#00c000" stroke-width="0.7" stroke-opacity="0.8"/>
<line x1="189.34" y1="347.63" x2="191.94" y2="347.63" stroke="#00c000" stroke-width="0.7" stroke-opacity="0.8"/>
<line x1="195.42" y1="373.28" x2="195.42" y2="358.49" stroke="#00c000" stroke-width="0.7" stroke-opacity="0.8"/>
<line x1="194.12" y1="358.49" x2="196.72" y2="358.49" stroke="#00c000" stroke-width="0.7" stroke-opacity="0.8"/>
<line x1="200.2" y1="377.76" x2="200.2" y2="354.24" stroke="#00c000" stroke-width="0.7" stroke-opacity="0.8"/>
<line x1="198.9" y1="354.24" x2="201.5" y2="354.24" stroke="#00c000" stroke-width="0.7" stroke-opacity="0.8"/>
<line x1="204.98" y1="384.25" x2="204.98" y2="361.52" stroke="#00c000" stroke-width="0.7" stroke-opacity="0.8"/>
<line x1="203.68" y1="361.52" x2="206.28" y2="361.52" stroke="#00c000" stroke-width="0.7" stroke-opacity="0.8"/>
<line x1="209.76" y1="386.94" x2="209.76" y2="355.24" stroke="#00c000" stroke-width="0.7" stroke-opacity="0.8"/>
<line x1="208.46" y1="355.24" x2="211.06" y2="355.24" stroke="#00c000" stroke-width="0.7" stroke-opacity="0.8"/>
<line x1="214.54" y1="391.42" x2="214.54" y2="357.26" stroke="#00c000" stroke-width="0.7" stroke-opacity="0.8"/>
<line x1="213.24" y1="357.26" x2="215.84" y2="357.26" stroke="#00c000" stroke-width="0.7" stroke-opacity="0.8"/>
<line x1="219.32" y1="391.42" x2="219.32" y2="362.3" stroke="#00c000" stroke-width="0.7" stroke-opacity="0.8"/>
<line x1="218.02" y1="362.3" x2="220.62" y2="362.3" stroke="#00c000" stroke-width="0.7" stroke-opacity="0.8"/>
<line x1="224.1" y1="386.94" x2="224.1" y2="356.14" stroke="#00c000" stroke-width="0.7" stroke-opacity="0.8"/>
<line x1="222.8" y1="356.14" x2="225.4" y2="356.14" stroke="#00c000" stroke-width="0.7" stroke-opacity="0.8"/>
<line x1="75.92" y1="380" x2="75.92" y2="362.3" stroke="#ff0000" stroke-width="0.7" stroke-opacity="0.8"/>
<line x1="74.62" y1="362.3" x2="77.22" y2="362.3" stroke="#ff0000" stroke-width="0.7" stroke-opacity="0.8"/>
<line x1="80.7" y1="370.7" x2="80.7" y2="356.7" stroke="#ff0000" stroke-width="0.7" stroke-opacity="0.8"/>
<line x1="79.4" y1="356.7" x2="82" y2="356.7" stroke="#ff0000" stroke-width="0.7" stroke-opacity="0.8"/>
<line x1="85.48" y1="341.13" x2="85.48" y2="325.9" stroke="#ff0000" stroke-width="0.7" stroke-opacity="0.8"/>
<line x1="84.18" y1="325.9" x2="86.78" y2="325.9" stroke="#ff0000" stroke-width="0.7" stroke-opacity="0.8"/>
<line x1="90.26" y1="331.72" x2="90.26" y2="318.4" stroke="#ff0000" stroke-width="0.7" stroke-opacity="0.8"/>
<line x1="88.96" y1="318.4" x2="91.56" y2="318.4" stroke="#ff0000" stroke-width="0.7" stroke-opacity="0.8"/>
<line x1="95.04" y1="335.53" x2="95.04" y2="325.23" stroke="#ff0000" stroke-width="0.7" stroke-opacity="0.8"/>
<line x1="93.74" y1="325.23" x2="96.34" y2="325.23" stroke="#ff0000" stroke-width="0.7" stroke-opacity="0.8"/>
<line x1="99.82" y1="353.9" x2="99.82" y2="348.3" stroke="#ff0000" stroke-width="0.7" stroke-opacity="0.8"/>
<line x1="98.52" y1="348.3" x2="101.12" y2="348.3" stroke="#ff0000" stroke-width="0.7" stroke-opacity="0.8"/>
<line x1="104.6" y1="370.7" x2="104.6" y2="363.98" stroke="#ff0000" stroke-width="0.7" stroke-opacity="0.8"/>
<line x1="103.3" y1="363.98" x2="105.9" y2="363.98" stroke="#ff0000" stroke-width="0.7" stroke-opacity="0.8"/>
<line x1="109.38" y1="366.78" x2="109.38" y2="358.38" stroke="#ff0000" stroke-width="0.7" stroke-opacity="0.8"/>
<line x1="108.08" y1="358.38" x2="110.68" y2="358.38" stroke="#ff0000" stroke-width="0.7" stroke-opacity="0.8"/>
<line x1="114.16" y1="374.4" x2="114.16" y2="365.32" stroke="#ff0000" stroke-width="0.7" stroke-opacity="0.8"/>
<line x1="112.86" y1="365.32" x2="115.46" y2="365.32" stroke="#ff0000" stroke-width="0.7" stroke-opacity="0.8"/>
<line x1="118.94" y1="398.48" x2="118.94" y2="389.52" stroke="#ff0000" stroke-width="0.7" stroke-opacity="0.8"/>
<line x1="117.64" y1="389.52" x2="120.24" y2="389.52" stroke="#ff0000" stroke-width="0.7" stroke-opacity="0.8"/>
<line x1="123.72" y1="387.16" x2="123.72" y2="378.88" stroke="#ff0000" stroke-width="0.7" stroke-opacity="0.8"/>
<line x1="122.42" y1="378.88" x2="125.02" y2="378.88" stroke="#ff0000" stroke-width="0.7" stroke-opacity="0.8"/>
<line x1="128.5" y1="363.31" x2="128.5" y2="350.2" stroke="#ff0000" stroke-width="0.7" stroke-opacity="0.8"/>
<line x1="127.2" y1="350.2" x2="129.8" y2="350.2" stroke="#ff0000" stroke-width="0.7" stroke-opacity="0.8"/>
<line x1="133.28" y1="342.59" x2="133.28" y2="331.28" stroke="#ff0000" stroke-width="0.7" stroke-opacity="0.8"/>
<line x1="131.98" y1="331.28" x2="134.58" y2="331.28" stroke="#ff0000" stroke-width="0.7" stroke-opacity="0.8"/>
<line x1="138.06" y1="338.78" x2="138.06" y2="334.64" stroke="#ff0000" stroke-width="0.7" stroke-opacity="0.8"/>
<line x1="136.76" y1="334.64" x2="139.36" y2="334.64" stroke="#ff0000" stroke-width="0.7" stroke-opacity="0.8"/>
<line x1="142.84" y1="329.82" x2="142.84" y2="320.97" stroke="#ff0000" stroke-width="0.7" stroke-opacity="0.8"/>
<line x1="141.54" y1="320.97" x2="144.14" y2="320.97" stroke="#ff0000" stroke-width="0.7" stroke-opacity="0.8"/>
<line x1="147.62" y1="346.4" x2="147.62" y2="342.59" stroke="#ff0000" stroke-width="0.7" stroke-opacity="0.8"/>
<line x1="146.32" y1="342.59" x2="148.92" y2="342.59" stroke="#ff0000" stroke-width="0.7" stroke-opacity="0.8"/>
<line x1="152.4" y1="352.44" x2="152.4" y2="343.15" stroke="#ff0000" stroke-width="0.7" stroke-opacity="0.8"/>
<line x1="151.1" y1="343.15" x2="153.7" y2="343.15" stroke="#ff0000" stroke-width="0.7" stroke-opacity="0.8"/>
<line x1="157.18" y1="361.52" x2="157.18" y2="353.23" stroke="#ff0000" stroke-width="0.7" stroke-opacity="0.8"/>
<line x1="155.88" y1="353.23" x2="158.48" y2="353.23" stroke="#ff0000" stroke-width="0.7" stroke-opacity="0.8"/>
<line x1="161.96" y1="357.71" x2="161.96" y2="344.6" stroke="#ff0000" stroke-width="0.7" stroke-opacity="0.8"/>
<line x1="160.66" y1="344.6" x2="163.26" y2="344.6" stroke="#ff0000" stroke-width="0.7" stroke-opacity="0.8"/>
<line x1="166.74" y1="365.32" x2="166.74" y2="349.76" stroke="#ff0000" stroke-width="0.7" stroke-opacity="0.8"/>
<line x1="165.44" y1="349.76" x2="168.04" y2="349.76" stroke="#ff0000" stroke-width="0.7" stroke-opacity="0.8"/>
<line x1="171.52" y1="365.32" x2="171.52" y2="353.9" stroke="#ff0000" stroke-width="0.7" stroke-opacity="0.8"/>
<line x1="170.22" y1="353.9" x2="172.82" y2="353.9" stroke="#ff0000" stroke-width="0.7" stroke-opacity="0.8"/>
<line x1="176.3" y1="357.71" x2="176.3" y2="353.9" stroke="#ff0000" stroke-width="0.7" stroke-opacity="0.8"/>
<line x1="175" y1="353.9" x2="177.6" y2="353.9" stroke="#ff0000" stroke-width="0.7" stroke-opacity="0.8"/>
<line x1="181.08" y1="347.63" x2="181.08" y2="340.35" stroke="#ff0000" stroke-width="0.7" stroke-opacity="0.8"/>
<line x1="179.78" y1="340.35" x2="182.38" y2="340.35" stroke="#ff0000" stroke-width="0.7" stroke-opacity="0.8"/>
<line x1="185.86" y1="343.71" x2="185.86" y2="338.56" stroke="#ff0000" stroke-width="0.7" stroke-opacity="0.8"/>
<line x1="184.56" y1="338.56" x2="187.16" y2="338.56" stroke="#ff0000" stroke-width="0.7" stroke-opacity="0.8"/>
<line x1="190.64" y1="333.96" x2="190.64" y2="329.48" stroke="#ff0000" stroke-width="0.7" stroke-opacity="0.8"/>
<line x1="189.34" y1="329.48" x2="191.94" y2="329.48" stroke="#ff0000" stroke-width="0.7" stroke-opacity="0.8"/>
<line x1="195.42" y1="340.35" x2="195.42" y2="333.52" stroke="#ff0000" stroke-width="0.7" stroke-opacity="0.8"/>
<line x1="194.12" y1="333.52" x2="196.72" y2="333.52" stroke="#ff0000" stroke-width="0.7" stroke-opacity="0.8"/>
<line x1="200.2" y1="350.2" x2="200.2" y2="335.53" stroke="#ff0000" stroke-width="0.7" stroke-opacity="0.8"/>
<line x1="198.9" y1="335.53" x2="201.5" y2="335.53" stroke="#ff0000" stroke-width="0.7" stroke-opacity="0.8"/>
<line x1="204.98" y1="353.23" x2="204.98" y2="346.73" stroke="#ff0000" stroke-width="0.7" stroke-opacity="0.8"/>
<line x1="203.68" y1="346.73" x2="206.28" y2="346.73" stroke="#ff0000" stroke-width="0.7" stroke-opacity="0.8"/>
<line x1="209.76" y1="353.23" x2="209.76" y2="338.11" stroke="#ff0000" stroke-width="0.7" stroke-opacity="0.8"/>
<line x1="208.46" y1="338.11" x2="211.06" y2="338.11" stroke="#ff0000" stroke-width="0.7" stroke-opacity="0.8"/>
<line x1="214.54" y1="347.18" x2="214.54" y2="342.7" stroke="#ff0000" stroke-width="0.7" stroke-opacity="0.8"/>
<line x1="213.24" y1="342.7" x2="215.84" y2="342.7" stroke="#ff0000" stroke-width="0.7" stroke-opacity="0.8"/>
<line x1="219.32" y1="338.11" x2="219.32" y2="334.86" stroke="#ff0000" stroke-width="0.7" stroke-opacity="0.8"/>
<line x1="218.02" y1="334.86" x2="220.62" y2="334.86" stroke="#ff0000" stroke-width="0.7" stroke-opacity="0.8"/>
<line x1="224.1" y1="334.64" x2="224.1" y2="332.62" stroke="#ff0000" stroke-width="0.7" stroke-opacity="0.8"/>
<line x1="222.8" y1="332.62" x2="225.4" y2="332.62" stroke="#ff0000" stroke-width="0.7" stroke-opacity="0.8"/>
<line x1="75.92" y1="412.59" x2="75.92" y2="406.54" stroke="#0000ff" stroke-width="0.7" stroke-opacity="0.8"/>
<line x1="74.62" y1="406.54" x2="77.22" y2="406.54" stroke="#0000ff" stroke-width="0.7" stroke-opacity="0.8"/>
<path d="M56.8,415.5 L61.58,415.5 L66.36,415.5 L71.14,415.5 L75.92,397.8 L80.7,391.42 L85.48,380 L90.26,358.16 L95.04,358.16 L99.82,380 L104.6,380 L109.38,396.01 L114.16,397.47 L118.94,413.71 L123.72,406.09 L128.5,402.06 L133.28,388.73 L138.06,366.78 L142.84,355.24 L147.62,362.3 L152.4,364.54 L157.18,384.48 L161.96,384.48 L166.74,396.01 L171.52,400.16 L176.3,390.97 L181.08,388.73 L185.86,366.78 L190.64,362.3 L195.42,373.28 L200.2,377.76 L204.98,384.25 L209.76,386.94 L214.54,391.42 L219.32,391.42 L224.1,386.94" fill="none" stroke="#00c000" stroke-width="0.8" stroke-linejoin="round"/>
<path d="M56.8,415.5 L61.58,415.5 L66.36,415.5 L71.14,415.5 L75.92,380 L80.7,370.7 L85.48,341.13 L90.26,331.72 L95.04,335.53 L99.82,353.9 L104.6,370.7 L109.38,366.78 L114.16,374.4 L118.94,398.48 L123.72,387.16 L128.5,363.31 L133.28,342.59 L138.06,338.78 L142.84,329.82 L147.62,346.4 L152.4,352.44 L157.18,361.52 L161.96,357.71 L166.74,365.32 L171.52,365.32 L176.3,357.71 L181.08,347.63 L185.86,343.71 L190.64,333.96 L195.42,340.35 L200.2,350.2 L204.98,353.23 L209.76,353.23 L214.54,347.18 L219.32,338.11 L224.1,334.64" fill="none" stroke="#ff0000" stroke-width="0.8" stroke-linejoin="round"/>
<path d="M56.8,415.5 L61.58,415.5 L66.36,415.5 L71.14,415.5 L75.92,412.59 L80.7,415.5 L85.48,415.5 L90.26,415.5 L95.04,415.5 L99.82,415.5 L104.6,415.5 L109.38,415.5 L114.16,415.5 L118.94,415.5 L123.72,415.5 L128.5,415.5 L133.28,415.5 L138.06,415.5 L142.84,415.5 L147.62,415.5 L152.4,415.5 L157.18,415.5 L161.96,415.5 L166.74,415.5 L171.52,415.5 L176.3,415.5 L181.08,415.5 L185.86,415.5 L190.64,415.5 L195.42,415.5 L200.2,415.5 L204.98,415.5 L209.76,415.5 L214.54,415.5 L219.32,415.5 L224.1,415.5" fill="none" stroke="#0000ff" stroke-width="0.8" stroke-linejoin="round"/>
<polygon points="56.8,413.39 54.85,416.9 58.75,416.9" fill="#00c000"/>
<polygon points="61.58,413.39 59.63,416.9 63.53,416.9" fill="#00c000"/>
<polygon points="66.36,413.39 64.41,416.9 68.31,416.9" fill="#00c000"/>
<polygon points="71.14,413.39 69.19,416.9 73.09,416.9" fill="#00c000"/>
<polygon points="75.92,395.7 73.97,399.21 77.87,399.21" fill="#00c000"/>
<polygon points="80.7,389.31 78.75,392.82 82.65,392.82" fill="#00c000"/>
<polygon points="85.48,377.89 83.53,381.4 87.43,381.4" fill="#00c000"/>
<polygon points="90.26,356.05 88.31,359.56 92.21,359.56" fill="#00c000"/>
<polygon points="95.04,356.05 93.09,359.56 96.99,359.56" fill="#00c000"/>
<polygon points="99.82,377.89 97.87,381.4 101.77,381.4" fill="#00c000"/>
<polygon points="104.6,377.89 102.65,381.4 106.55,381.4" fill="#00c000"/>
<polygon points="109.38,393.91 107.43,397.42 111.33,397.42" fill="#00c000"/>
<polygon points="114.16,395.36 112.21,398.87 116.11,398.87" fill="#00c000"/>
<polygon points="118.94,411.6 116.99,415.11 120.89,415.11" fill="#00c000"/>
<polygon points="123.72,403.99 121.77,407.5 125.67,407.5" fill="#00c000"/>
<polygon points="128.5,399.95 126.55,403.46 130.45,403.46" fill="#00c000"/>
<polygon points="133.28,386.63 131.33,390.14 135.23,390.14" fill="#00c000"/>
<polygon points="138.06,364.67 136.11,368.18 140.01,368.18" fill="#00c000"/>
<polygon points="142.84,353.14 140.89,356.65 144.79,356.65" fill="#00c000"/>
<polygon points="147.62,360.19 145.67,363.7 149.57,363.7" fill="#00c000"/>
<polygon points="152.4,362.43 150.45,365.94 154.35,365.94" fill="#00c000"/>
<polygon points="157.18,382.37 155.23,385.88 159.13,385.88" fill="#00c000"/>
<polygon points="161.96,382.37 160.01,385.88 163.91,385.88" fill="#00c000"/>
<polygon points="166.74,393.91 164.79,397.42 168.69,397.42" fill="#00c000"/>
<polygon points="171.52,398.05 169.57,401.56 173.47,401.56" fill="#00c000"/>
<polygon points="176.3,388.87 174.35,392.38 178.25,392.38" fill="#00c000"/>
<polygon points="181.08,386.63 179.13,390.14 183.03,390.14" fill="#00c000"/>
<polygon points="185.86,364.67 183.91,368.18 187.81,368.18" fill="#00c000"/>
<polygon points="190.64,360.19 188.69,363.7 192.59,363.7" fill="#00c000"/>
<polygon points="195.42,371.17 193.47,374.68 197.37,374.68" fill="#00c000"/>
<polygon points="200.2,375.65 198.25,379.16 202.15,379.16" fill="#00c000"/>
<polygon points="204.98,382.15 203.03,385.66 206.93,385.66" fill="#00c000"/>
<polygon points="209.76,384.83 207.81,388.34 211.71,388.34" fill="#00c000"/>
<polygon points="214.54,389.31 212.59,392.82 216.49,392.82" fill="#00c000"/>
<polygon points="219.32,389.31 217.37,392.82 221.27,392.82" fill="#00c000"/>
<polygon points="224.1,384.83 222.15,388.34 226.05,388.34" fill="#00c000"/>
<rect x="54.9" y="413.6" width="3.8" height="3.8" fill="#ff0000"/>
<rect x="59.68" y="413.6" width="3.8" height="3.8" fill="#ff0000"/>
<rect x="64.46" y="413.6" width="3.8" height="3.8" fill="#ff0000"/>
<rect x="69.24" y="413.6" width="3.8" height="3.8" fill="#ff0000"/>
<rect x="74.02" y="378.1" width="3.8" height="3.8" fill="#ff0000"/>
<rect x="78.8" y="368.8" width="3.8" height="3.8" fill="#ff0000"/>
<rect x="83.58" y="339.23" width="3.8" height="3.8" fill="#ff0000"/>
<rect x="88.36" y="329.82" width="3.8" height="3.8" fill="#ff0000"/>
<rect x="93.14" y="333.63" width="3.8" height="3.8" fill="#ff0000"/>
<rect x="97.92" y="352" width="3.8" height="3.8" fill="#ff0000"/>
<rect x="102.7" y="368.8" width="3.8" height="3.8" fill="#ff0000"/>
<rect x="107.48" y="364.88" width="3.8" height="3.8" fill="#ff0000"/>
<rect x="112.26" y="372.5" width="3.8" height="3.8" fill="#ff0000"/>
<rect x="117.04" y="396.58" width="3.8" height="3.8" fill="#ff0000"/>
<rect x="121.82" y="385.26" width="3.8" height="3.8" fill="#ff0000"/>
<rect x="126.6" y="361.41" width="3.8" height="3.8" fill="#ff0000"/>
<rect x="131.38" y="340.69" width="3.8" height="3.8" fill="#ff0000"/>
<rect x="136.16" y="336.88" width="3.8" height="3.8" fill="#ff0000"/>
<rect x="140.94" y="327.92" width="3.8" height="3.8" fill="#ff0000"/>
<rect x="145.72" y="344.5" width="3.8" height="3.8" fill="#ff0000"/>
<rect x="150.5" y="350.54" width="3.8" height="3.8" fill="#ff0000"/>
<rect x="155.28" y="359.62" width="3.8" height="3.8" fill="#ff0000"/>
<rect x="160.06" y="355.81" width="3.8" height="3.8" fill="#ff0000"/>
<rect x="164.84" y="363.42" width="3.8" height="3.8" fill="#ff0000"/>
<rect x="169.62" y="363.42" width="3.8" height="3.8" fill="#ff0000"/>
<rect x="174.4" y="355.81" width="3.8" height="3.8" fill="#ff0000"/>
<rect x="179.18" y="345.73" width="3.8" height="3.8" fill="#ff0000"/>
<rect x="183.96" y="341.81" width="3.8" height="3.8" fill="#ff0000"/>
<rect x="188.74" y="332.06" width="3.8" height="3.8" fill="#ff0000"/>
<rect x="193.52" y="338.45" width="3.8" height="3.8" fill="#ff0000"/>
<rect x="198.3" y="348.3" width="3.8" height="3.8" fill="#ff0000"/>
<rect x="203.08" y="351.33" width="3.8" height="3.8" fill="#ff0000"/>
<rect x="207.86" y="351.33" width="3.8" height="3.8" fill="#ff0000"/>
<rect x="212.64" y="345.28" width="3.8" height="3.8" fill="#ff0000"/>
<rect x="217.42" y="336.21" width="3.8" height="3.8" fill="#ff0000"/>
<rect x="222.2" y="332.74" width="3.8" height="3.8" fill="#ff0000"/>
<circle cx="56.8" cy="415.5" r="2.2" fill="#0000ff"/>
<circle cx="61.58" cy="415.5" r="2.2" fill="#0000ff"/>
<circle cx="66.36" cy="415.5" r="2.2" fill="#0000ff"/>
<circle cx="71.14" cy="415.5" r="2.2" fill="#0000ff"/>
<circle cx="75.92" cy="412.59" r="2.2" fill="#0000ff"/>
<circle cx="80.7" cy="415.5" r="2.2" fill="#0000ff"/>
<circle cx="85.48" cy="415.5" r="2.2" fill="#0000ff"/>
<circle cx="90.26" cy="415.5" r="2.2" fill="#0000ff"/>
<circle cx="95.04" cy="415.5" r="2.2" fill="#0000ff"/>
<circle cx="99.82" cy="415.5" r="2.2" fill="#0000ff"/>
<circle cx="104.6" cy="415.5" r="2.2" fill="#0000ff"/>
<circle cx="109.38" cy="415.5" r="2.2" fill="#0000ff"/>
<circle cx="114.16" cy="415.5" r="2.2" fill="#0000ff"/>
<circle cx="118.94" cy="415.5" r="2.2" fill="#0000ff"/>
<circle cx="123.72" cy="415.5" r="2.2" fill="#0000ff"/>
<circle cx="128.5" cy="415.5" r="2.2" fill="#0000ff"/>
<circle cx="133.28" cy="415.5" r="2.2" fill="#0000ff"/>
<circle cx="138.06" cy="415.5" r="2.2" fill="#0000ff"/>
<circle cx="142.84" cy="415.5" r="2.2" fill="#0000ff"/>
<circle cx="147.62" cy="415.5" r="2.2" fill="#0000ff"/>
<circle cx="152.4" cy="415.5" r="2.2" fill="#0000ff"/>
<circle cx="157.18" cy="415.5" r="2.2" fill="#0000ff"/>
<circle cx="161.96" cy="415.5" r="2.2" fill="#0000ff"/>
<circle cx="166.74" cy="415.5" r="2.2" fill="#0000ff"/>
<circle cx="171.52" cy="415.5" r="2.2" fill="#0000ff"/>
<circle cx="176.3" cy="415.5" r="2.2" fill="#0000ff"/>
<circle cx="181.08" cy="415.5" r="2.2" fill="#0000ff"/>
<circle cx="185.86" cy="415.5" r="2.2" fill="#0000ff"/>
<circle cx="190.64" cy="415.5" r="2.2" fill="#0000ff"/>
<circle cx="195.42" cy="415.5" r="2.2" fill="#0000ff"/>
<circle cx="200.2" cy="415.5" r="2.2" fill="#0000ff"/>
<circle cx="204.98" cy="415.5" r="2.2" fill="#0000ff"/>
<circle cx="209.76" cy="415.5" r="2.2" fill="#0000ff"/>
<circle cx="214.54" cy="415.5" r="2.2" fill="#0000ff"/>
<circle cx="219.32" cy="415.5" r="2.2" fill="#0000ff"/>
<circle cx="224.1" cy="415.5" r="2.2" fill="#0000ff"/>
<path d="M228.3,327.3 H230.3 V390.9 H228.3" fill="none" stroke="#555" stroke-width="0.9"/>
<line x1="230.3" y1="359" x2="231.9" y2="359" stroke="#555" stroke-width="0.8"/>
<circle cx="238.65" cy="358.3" r="1.35" fill="#111"/>
<circle cx="242.55" cy="358.3" r="1.35" fill="#111"/>
<path d="M247.5,328.5 H249.5 V414.4 H247.5" fill="none" stroke="#555" stroke-width="0.9"/>
<line x1="249.5" y1="371.4" x2="251.1" y2="371.4" stroke="#555" stroke-width="0.8"/>
<circle cx="257.15" cy="372.6" r="1.35" fill="#111"/>
<circle cx="261.05" cy="372.6" r="1.35" fill="#111"/>
<text x="276.7" y="238.4" font-size="12.5" font-weight="bold" text-anchor="start" fill="#000" textLength="7.6" lengthAdjust="spacingAndGlyphs">D</text>
<line x1="323.2" y1="298.6" x2="323.2" y2="420.2" stroke="#000" stroke-width="1.5"/>
<line x1="319" y1="419.6" x2="323.2" y2="419.6" stroke="#000" stroke-width="1.4"/>
<text x="316.8" y="422.4" font-size="7.9" font-weight="bold" text-anchor="end" fill="#000">0</text>
<line x1="319" y1="395.52" x2="323.2" y2="395.52" stroke="#000" stroke-width="1.4"/>
<text x="316.8" y="398.32" font-size="7.9" font-weight="bold" text-anchor="end" fill="#000">1</text>
<line x1="319" y1="371.44" x2="323.2" y2="371.44" stroke="#000" stroke-width="1.4"/>
<text x="316.8" y="374.24" font-size="7.9" font-weight="bold" text-anchor="end" fill="#000">2</text>
<line x1="319" y1="347.36" x2="323.2" y2="347.36" stroke="#000" stroke-width="1.4"/>
<text x="316.8" y="350.16" font-size="7.9" font-weight="bold" text-anchor="end" fill="#000">3</text>
<line x1="319" y1="323.28" x2="323.2" y2="323.28" stroke="#000" stroke-width="1.4"/>
<text x="316.8" y="326.08" font-size="7.9" font-weight="bold" text-anchor="end" fill="#000">4</text>
<line x1="319" y1="299.2" x2="323.2" y2="299.2" stroke="#000" stroke-width="1.4"/>
<text x="316.8" y="302" font-size="7.9" font-weight="bold" text-anchor="end" fill="#000">5</text>
<line x1="323.2" y1="419.6" x2="504.81" y2="419.6" stroke="#000" stroke-width="1.4"/>
<line x1="323.2" y1="419.6" x2="323.2" y2="424" stroke="#000" stroke-width="1.3"/>
<line x1="374.66" y1="419.6" x2="374.66" y2="424" stroke="#000" stroke-width="1.3"/>
<line x1="426.12" y1="419.6" x2="426.12" y2="424" stroke="#000" stroke-width="1.3"/>
<line x1="477.58" y1="419.6" x2="477.58" y2="424" stroke="#000" stroke-width="1.3"/>
<text x="323.2" y="433.6" font-size="7.8" font-weight="bold" text-anchor="middle" fill="#000" textLength="4.6" lengthAdjust="spacingAndGlyphs">0</text>
<text x="374.66" y="433.6" font-size="7.8" font-weight="bold" text-anchor="middle" fill="#000" textLength="9.2" lengthAdjust="spacingAndGlyphs">20</text>
<text x="426.12" y="433.6" font-size="7.8" font-weight="bold" text-anchor="middle" fill="#000" textLength="9.2" lengthAdjust="spacingAndGlyphs">40</text>
<text x="477.58" y="433.6" font-size="7.8" font-weight="bold" text-anchor="middle" fill="#000" textLength="9.2" lengthAdjust="spacingAndGlyphs">60</text>
<text x="412.8" y="449.6" font-size="9.3" font-weight="bold" text-anchor="middle" fill="#000" textLength="28.6" lengthAdjust="spacingAndGlyphs">Day(s)</text>
<text transform="translate(304.4,359.4) rotate(-90)" font-size="9.4" font-weight="bold" text-anchor="middle" textLength="70" lengthAdjust="spacingAndGlyphs">Bleeding score</text>
<line x1="326.4" y1="257.5" x2="339.2" y2="257.5" stroke="#0000ff" stroke-width="0.9" stroke-opacity="0.7"/>
<circle cx="332.8" cy="257.5" r="1.85" fill="#0000ff"/>
<text x="346.9" y="260.92" font-size="9.5" text-anchor="start" fill="#222">Control</text>
<line x1="326.4" y1="274.2" x2="339.2" y2="274.2" stroke="#ff0000" stroke-width="0.9" stroke-opacity="0.7"/>
<rect x="330.95" y="272.35" width="3.7" height="3.7" fill="#ff0000"/>
<text x="346.9" y="277.62" font-size="9.5" text-anchor="start" fill="#222">Model</text>
<line x1="326.4" y1="290.1" x2="339.2" y2="290.1" stroke="#00c000" stroke-width="0.9" stroke-opacity="0.7"/>
<polygon points="332.8,288.1 330.95,291.43 334.65,291.43" fill="#00c000"/>
<text x="346.9" y="293.52" font-size="9.5" text-anchor="start" fill="#222">THZ2</text>
<line x1="359.22" y1="401.3" x2="359.22" y2="374.57" stroke="#00c000" stroke-width="0.7" stroke-opacity="0.8"/>
<line x1="357.92" y1="374.57" x2="360.52" y2="374.57" stroke="#00c000" stroke-width="0.7" stroke-opacity="0.8"/>
<line x1="364.37" y1="401.3" x2="364.37" y2="380.83" stroke="#00c000" stroke-width="0.7" stroke-opacity="0.8"/>
<line x1="363.07" y1="380.83" x2="365.67" y2="380.83" stroke="#00c000" stroke-width="0.7" stroke-opacity="0.8"/>
<line x1="400.39" y1="414.3" x2="400.39" y2="408.28" stroke="#00c000" stroke-width="0.7" stroke-opacity="0.8"/>
<line x1="399.09" y1="408.28" x2="401.69" y2="408.28" stroke="#00c000" stroke-width="0.7" stroke-opacity="0.8"/>
<line x1="405.54" y1="400.1" x2="405.54" y2="379.87" stroke="#00c000" stroke-width="0.7" stroke-opacity="0.8"/>
<line x1="404.24" y1="379.87" x2="406.84" y2="379.87" stroke="#00c000" stroke-width="0.7" stroke-opacity="0.8"/>
<line x1="410.68" y1="390.22" x2="410.68" y2="370" stroke="#00c000" stroke-width="0.7" stroke-opacity="0.8"/>
<line x1="409.38" y1="370" x2="411.98" y2="370" stroke="#00c000" stroke-width="0.7" stroke-opacity="0.8"/>
<line x1="415.83" y1="400.1" x2="415.83" y2="376.5" stroke="#00c000" stroke-width="0.7" stroke-opacity="0.8"/>
<line x1="414.53" y1="376.5" x2="417.13" y2="376.5" stroke="#00c000" stroke-width="0.7" stroke-opacity="0.8"/>
<line x1="420.97" y1="412.62" x2="420.97" y2="405.63" stroke="#00c000" stroke-width="0.7" stroke-opacity="0.8"/>
<line x1="419.67" y1="405.63" x2="422.27" y2="405.63" stroke="#00c000" stroke-width="0.7" stroke-opacity="0.8"/>
<line x1="426.12" y1="417.67" x2="426.12" y2="411.41" stroke="#00c000" stroke-width="0.7" stroke-opacity="0.8"/>
<line x1="424.82" y1="411.41" x2="427.42" y2="411.41" stroke="#00c000" stroke-width="0.7" stroke-opacity="0.8"/>
<line x1="431.27" y1="417.67" x2="431.27" y2="411.41" stroke="#00c000" stroke-width="0.7" stroke-opacity="0.8"/>
<line x1="429.97" y1="411.41" x2="432.57" y2="411.41" stroke="#00c000" stroke-width="0.7" stroke-opacity="0.8"/>
<line x1="436.41" y1="417.67" x2="436.41" y2="411.41" stroke="#00c000" stroke-width="0.7" stroke-opacity="0.8"/>
<line x1="435.11" y1="411.41" x2="437.71" y2="411.41" stroke="#00c000" stroke-width="0.7" stroke-opacity="0.8"/>
<line x1="441.56" y1="417.67" x2="441.56" y2="411.41" stroke="#00c000" stroke-width="0.7" stroke-opacity="0.8"/>
<line x1="440.26" y1="411.41" x2="442.86" y2="411.41" stroke="#00c000" stroke-width="0.7" stroke-opacity="0.8"/>
<line x1="446.7" y1="417.67" x2="446.7" y2="411.41" stroke="#00c000" stroke-width="0.7" stroke-opacity="0.8"/>
<line x1="445.4" y1="411.41" x2="448" y2="411.41" stroke="#00c000" stroke-width="0.7" stroke-opacity="0.8"/>
<line x1="451.85" y1="412.62" x2="451.85" y2="396" stroke="#00c000" stroke-width="0.7" stroke-opacity="0.8"/>
<line x1="450.55" y1="396" x2="453.15" y2="396" stroke="#00c000" stroke-width="0.7" stroke-opacity="0.8"/>
<line x1="457" y1="404.91" x2="457" y2="384.92" stroke="#00c000" stroke-width="0.7" stroke-opacity="0.8"/>
<line x1="455.7" y1="384.92" x2="458.3" y2="384.92" stroke="#00c000" stroke-width="0.7" stroke-opacity="0.8"/>
<line x1="462.14" y1="383.24" x2="462.14" y2="355.31" stroke="#00c000" stroke-width="0.7" stroke-opacity="0.8"/>
<line x1="460.84" y1="355.31" x2="463.44" y2="355.31" stroke="#00c000" stroke-width="0.7" stroke-opacity="0.8"/>
<line x1="467.29" y1="376.5" x2="467.29" y2="354.1" stroke="#00c000" stroke-width="0.7" stroke-opacity="0.8"/>
<line x1="465.99" y1="354.1" x2="468.59" y2="354.1" stroke="#00c000" stroke-width="0.7" stroke-opacity="0.8"/>
<line x1="472.43" y1="412.62" x2="472.43" y2="405.63" stroke="#00c000" stroke-width="0.7" stroke-opacity="0.8"/>
<line x1="471.13" y1="405.63" x2="473.73" y2="405.63" stroke="#00c000" stroke-width="0.7" stroke-opacity="0.8"/>
<line x1="477.58" y1="414.3" x2="477.58" y2="408.28" stroke="#00c000" stroke-width="0.7" stroke-opacity="0.8"/>
<line x1="476.28" y1="408.28" x2="478.88" y2="408.28" stroke="#00c000" stroke-width="0.7" stroke-opacity="0.8"/>
<line x1="482.73" y1="414.3" x2="482.73" y2="408.28" stroke="#00c000" stroke-width="0.7" stroke-opacity="0.8"/>
<line x1="481.43" y1="408.28" x2="484.03" y2="408.28" stroke="#00c000" stroke-width="0.7" stroke-opacity="0.8"/>
<line x1="487.87" y1="407.32" x2="487.87" y2="386.13" stroke="#00c000" stroke-width="0.7" stroke-opacity="0.8"/>
<line x1="486.57" y1="386.13" x2="489.17" y2="386.13" stroke="#00c000" stroke-width="0.7" stroke-opacity="0.8"/>
<line x1="493.02" y1="412.62" x2="493.02" y2="399.61" stroke="#00c000" stroke-width="0.7" stroke-opacity="0.8"/>
<line x1="491.72" y1="399.61" x2="494.32" y2="399.61" stroke="#00c000" stroke-width="0.7" stroke-opacity="0.8"/>
<line x1="498.16" y1="412.14" x2="498.16" y2="403.71" stroke="#00c000" stroke-width="0.7" stroke-opacity="0.8"/>
<line x1="496.86" y1="403.71" x2="499.46" y2="403.71" stroke="#00c000" stroke-width="0.7" stroke-opacity="0.8"/>
<line x1="503.31" y1="409.97" x2="503.31" y2="399.37" stroke="#00c000" stroke-width="0.7" stroke-opacity="0.8"/>
<line x1="502.01" y1="399.37" x2="504.61" y2="399.37" stroke="#00c000" stroke-width="0.7" stroke-opacity="0.8"/>
<line x1="348.93" y1="400.1" x2="348.93" y2="371.92" stroke="#ff0000" stroke-width="0.7" stroke-opacity="0.8"/>
<line x1="347.63" y1="371.92" x2="350.23" y2="371.92" stroke="#ff0000" stroke-width="0.7" stroke-opacity="0.8"/>
<line x1="354.08" y1="335.8" x2="354.08" y2="316.06" stroke="#ff0000" stroke-width="0.7" stroke-opacity="0.8"/>
<line x1="352.78" y1="316.06" x2="355.38" y2="316.06" stroke="#ff0000" stroke-width="0.7" stroke-opacity="0.8"/>
<line x1="359.22" y1="337.49" x2="359.22" y2="316.06" stroke="#ff0000" stroke-width="0.7" stroke-opacity="0.8"/>
<line x1="357.92" y1="316.06" x2="360.52" y2="316.06" stroke="#ff0000" stroke-width="0.7" stroke-opacity="0.8"/>
<line x1="364.37" y1="353.86" x2="364.37" y2="335.8" stroke="#ff0000" stroke-width="0.7" stroke-opacity="0.8"/>
<line x1="363.07" y1="335.8" x2="365.67" y2="335.8" stroke="#ff0000" stroke-width="0.7" stroke-opacity="0.8"/>
<line x1="369.51" y1="408.04" x2="369.51" y2="388.3" stroke="#ff0000" stroke-width="0.7" stroke-opacity="0.8"/>
<line x1="368.21" y1="388.3" x2="370.81" y2="388.3" stroke="#ff0000" stroke-width="0.7" stroke-opacity="0.8"/>
<line x1="400.39" y1="365.42" x2="400.39" y2="341.58" stroke="#ff0000" stroke-width="0.7" stroke-opacity="0.8"/>
<line x1="399.09" y1="341.58" x2="401.69" y2="341.58" stroke="#ff0000" stroke-width="0.7" stroke-opacity="0.8"/>
<line x1="405.54" y1="335.32" x2="405.54" y2="315.33" stroke="#ff0000" stroke-width="0.7" stroke-opacity="0.8"/>
<line x1="404.24" y1="315.33" x2="406.84" y2="315.33" stroke="#ff0000" stroke-width="0.7" stroke-opacity="0.8"/>
<line x1="415.83" y1="347.36" x2="415.83" y2="327.13" stroke="#ff0000" stroke-width="0.7" stroke-opacity="0.8"/>
<line x1="414.53" y1="327.13" x2="417.13" y2="327.13" stroke="#ff0000" stroke-width="0.7" stroke-opacity="0.8"/>
<line x1="420.97" y1="393.83" x2="420.97" y2="370" stroke="#ff0000" stroke-width="0.7" stroke-opacity="0.8"/>
<line x1="419.67" y1="370" x2="422.27" y2="370" stroke="#ff0000" stroke-width="0.7" stroke-opacity="0.8"/>
<line x1="426.12" y1="405.39" x2="426.12" y2="387.57" stroke="#ff0000" stroke-width="0.7" stroke-opacity="0.8"/>
<line x1="424.82" y1="387.57" x2="427.42" y2="387.57" stroke="#ff0000" stroke-width="0.7" stroke-opacity="0.8"/>
<line x1="431.27" y1="412.14" x2="431.27" y2="401.78" stroke="#ff0000" stroke-width="0.7" stroke-opacity="0.8"/>
<line x1="429.97" y1="401.78" x2="432.57" y2="401.78" stroke="#ff0000" stroke-width="0.7" stroke-opacity="0.8"/>
<line x1="436.41" y1="409.73" x2="436.41" y2="401.3" stroke="#ff0000" stroke-width="0.7" stroke-opacity="0.8"/>
<line x1="435.11" y1="401.3" x2="437.71" y2="401.3" stroke="#ff0000" stroke-width="0.7" stroke-opacity="0.8"/>
<line x1="441.56" y1="403.71" x2="441.56" y2="393.59" stroke="#ff0000" stroke-width="0.7" stroke-opacity="0.8"/>
<line x1="440.26" y1="393.59" x2="442.86" y2="393.59" stroke="#ff0000" stroke-width="0.7" stroke-opacity="0.8"/>
<line x1="446.7" y1="407.56" x2="446.7" y2="399.61" stroke="#ff0000" stroke-width="0.7" stroke-opacity="0.8"/>
<line x1="445.4" y1="399.61" x2="448" y2="399.61" stroke="#ff0000" stroke-width="0.7" stroke-opacity="0.8"/>
<line x1="451.85" y1="381.79" x2="451.85" y2="350.49" stroke="#ff0000" stroke-width="0.7" stroke-opacity="0.8"/>
<line x1="450.55" y1="350.49" x2="453.15" y2="350.49" stroke="#ff0000" stroke-width="0.7" stroke-opacity="0.8"/>
<line x1="457" y1="346.64" x2="457" y2="320.87" stroke="#ff0000" stroke-width="0.7" stroke-opacity="0.8"/>
<line x1="455.7" y1="320.87" x2="458.3" y2="320.87" stroke="#ff0000" stroke-width="0.7" stroke-opacity="0.8"/>
<line x1="462.14" y1="331.71" x2="462.14" y2="321.35" stroke="#ff0000" stroke-width="0.7" stroke-opacity="0.8"/>
<line x1="460.84" y1="321.35" x2="463.44" y2="321.35" stroke="#ff0000" stroke-width="0.7" stroke-opacity="0.8"/>
<line x1="467.29" y1="328.34" x2="467.29" y2="319.19" stroke="#ff0000" stroke-width="0.7" stroke-opacity="0.8"/>
<line x1="465.99" y1="319.19" x2="468.59" y2="319.19" stroke="#ff0000" stroke-width="0.7" stroke-opacity="0.8"/>
<line x1="472.43" y1="372.88" x2="472.43" y2="355.31" stroke="#ff0000" stroke-width="0.7" stroke-opacity="0.8"/>
<line x1="471.13" y1="355.31" x2="473.73" y2="355.31" stroke="#ff0000" stroke-width="0.7" stroke-opacity="0.8"/>
<line x1="477.58" y1="377.22" x2="477.58" y2="346.4" stroke="#ff0000" stroke-width="0.7" stroke-opacity="0.8"/>
<line x1="476.28" y1="346.4" x2="478.88" y2="346.4" stroke="#ff0000" stroke-width="0.7" stroke-opacity="0.8"/>
<line x1="482.73" y1="398.41" x2="482.73" y2="387.57" stroke="#ff0000" stroke-width="0.7" stroke-opacity="0.8"/>
<line x1="481.43" y1="387.57" x2="484.03" y2="387.57" stroke="#ff0000" stroke-width="0.7" stroke-opacity="0.8"/>
<line x1="487.87" y1="404.43" x2="487.87" y2="399.61" stroke="#ff0000" stroke-width="0.7" stroke-opacity="0.8"/>
<line x1="486.57" y1="399.61" x2="489.17" y2="399.61" stroke="#ff0000" stroke-width="0.7" stroke-opacity="0.8"/>
<line x1="493.02" y1="403.47" x2="493.02" y2="398.41" stroke="#ff0000" stroke-width="0.7" stroke-opacity="0.8"/>
<line x1="491.72" y1="398.41" x2="494.32" y2="398.41" stroke="#ff0000" stroke-width="0.7" stroke-opacity="0.8"/>
<line x1="498.16" y1="398.41" x2="498.16" y2="393.59" stroke="#ff0000" stroke-width="0.7" stroke-opacity="0.8"/>
<line x1="496.86" y1="393.59" x2="499.46" y2="393.59" stroke="#ff0000" stroke-width="0.7" stroke-opacity="0.8"/>
<line x1="503.31" y1="385.65" x2="503.31" y2="375.53" stroke="#ff0000" stroke-width="0.7" stroke-opacity="0.8"/>
<line x1="502.01" y1="375.53" x2="504.61" y2="375.53" stroke="#ff0000" stroke-width="0.7" stroke-opacity="0.8"/>
<path d="M323.2,419.6 L328.35,419.6 L333.49,419.6 L338.64,419.6 L343.78,419.6 L348.93,419.6 L354.08,419.6 L359.22,401.3 L364.37,401.3 L369.51,419.6 L374.66,419.6 L379.81,419.6 L384.95,419.6 L390.1,419.6 L395.24,419.6 L400.39,414.3 L405.54,400.1 L410.68,390.22 L415.83,400.1 L420.97,412.62 L426.12,417.67 L431.27,417.67 L436.41,417.67 L441.56,417.67 L446.7,417.67 L451.85,412.62 L457,404.91 L462.14,383.24 L467.29,376.5 L472.43,412.62 L477.58,414.3 L482.73,414.3 L487.87,407.32 L493.02,412.62 L498.16,412.14 L503.31,409.97" fill="none" stroke="#00c000" stroke-width="0.8" stroke-linejoin="round"/>
<path d="M323.2,419.6 L328.35,419.6 L333.49,419.6 L338.64,419.6 L343.78,419.6 L348.93,400.1 L354.08,335.8 L359.22,337.49 L364.37,353.86 L369.51,408.04 L374.66,419.6 L379.81,419.6 L384.95,419.6 L390.1,419.6 L395.24,419.6 L400.39,365.42 L405.54,335.32 L410.68,323.28 L415.83,347.36 L420.97,393.83 L426.12,405.39 L431.27,412.14 L436.41,409.73 L441.56,403.71 L446.7,407.56 L451.85,381.79 L457,346.64 L462.14,331.71 L467.29,328.34 L472.43,372.88 L477.58,377.22 L482.73,398.41 L487.87,404.43 L493.02,403.47 L498.16,398.41 L503.31,385.65" fill="none" stroke="#ff0000" stroke-width="0.8" stroke-linejoin="round"/>
<path d="M323.2,419.6 L328.35,419.6 L333.49,419.6 L338.64,419.6 L343.78,419.6 L348.93,419.6 L354.08,419.6 L359.22,419.6 L364.37,419.6 L369.51,419.6 L374.66,419.6 L379.81,419.6 L384.95,419.6 L390.1,419.6 L395.24,419.6 L400.39,419.6 L405.54,419.6 L410.68,419.6 L415.83,419.6 L420.97,419.6 L426.12,419.6 L431.27,419.6 L436.41,419.6 L441.56,419.6 L446.7,419.6 L451.85,419.6 L457,419.6 L462.14,419.6 L467.29,419.6 L472.43,419.6 L477.58,419.6 L482.73,419.6 L487.87,419.6 L493.02,419.6 L498.16,419.6 L503.31,419.6" fill="none" stroke="#0000ff" stroke-width="0.8" stroke-linejoin="round"/>
<polygon points="323.2,417.49 321.25,421 325.15,421" fill="#00c000"/>
<polygon points="328.35,417.49 326.4,421 330.3,421" fill="#00c000"/>
<polygon points="333.49,417.49 331.54,421 335.44,421" fill="#00c000"/>
<polygon points="338.64,417.49 336.69,421 340.59,421" fill="#00c000"/>
<polygon points="343.78,417.49 341.83,421 345.73,421" fill="#00c000"/>
<polygon points="348.93,417.49 346.98,421 350.88,421" fill="#00c000"/>
<polygon points="354.08,417.49 352.13,421 356.03,421" fill="#00c000"/>
<polygon points="359.22,399.19 357.27,402.7 361.17,402.7" fill="#00c000"/>
<polygon points="364.37,399.19 362.42,402.7 366.32,402.7" fill="#00c000"/>
<polygon points="369.51,417.49 367.56,421 371.46,421" fill="#00c000"/>
<polygon points="374.66,417.49 372.71,421 376.61,421" fill="#00c000"/>
<polygon points="379.81,417.49 377.86,421 381.76,421" fill="#00c000"/>
<polygon points="384.95,417.49 383,421 386.9,421" fill="#00c000"/>
<polygon points="390.1,417.49 388.15,421 392.05,421" fill="#00c000"/>
<polygon points="395.24,417.49 393.29,421 397.19,421" fill="#00c000"/>
<polygon points="400.39,412.2 398.44,415.71 402.34,415.71" fill="#00c000"/>
<polygon points="405.54,397.99 403.59,401.5 407.49,401.5" fill="#00c000"/>
<polygon points="410.68,388.12 408.73,391.63 412.63,391.63" fill="#00c000"/>
<polygon points="415.83,397.99 413.88,401.5 417.78,401.5" fill="#00c000"/>
<polygon points="420.97,410.51 419.02,414.02 422.92,414.02" fill="#00c000"/>
<polygon points="426.12,415.57 424.17,419.08 428.07,419.08" fill="#00c000"/>
<polygon points="431.27,415.57 429.32,419.08 433.22,419.08" fill="#00c000"/>
<polygon points="436.41,415.57 434.46,419.08 438.36,419.08" fill="#00c000"/>
<polygon points="441.56,415.57 439.61,419.08 443.51,419.08" fill="#00c000"/>
<polygon points="446.7,415.57 444.75,419.08 448.65,419.08" fill="#00c000"/>
<polygon points="451.85,410.51 449.9,414.02 453.8,414.02" fill="#00c000"/>
<polygon points="457,402.81 455.05,406.32 458.95,406.32" fill="#00c000"/>
<polygon points="462.14,381.13 460.19,384.64 464.09,384.64" fill="#00c000"/>
<polygon points="467.29,374.39 465.34,377.9 469.24,377.9" fill="#00c000"/>
<polygon points="472.43,410.51 470.48,414.02 474.38,414.02" fill="#00c000"/>
<polygon points="477.58,412.2 475.63,415.71 479.53,415.71" fill="#00c000"/>
<polygon points="482.73,412.2 480.78,415.71 484.68,415.71" fill="#00c000"/>
<polygon points="487.87,405.21 485.92,408.72 489.82,408.72" fill="#00c000"/>
<polygon points="493.02,410.51 491.07,414.02 494.97,414.02" fill="#00c000"/>
<polygon points="498.16,410.03 496.21,413.54 500.11,413.54" fill="#00c000"/>
<polygon points="503.31,407.86 501.36,411.37 505.26,411.37" fill="#00c000"/>
<rect x="321.3" y="417.7" width="3.8" height="3.8" fill="#ff0000"/>
<rect x="326.45" y="417.7" width="3.8" height="3.8" fill="#ff0000"/>
<rect x="331.59" y="417.7" width="3.8" height="3.8" fill="#ff0000"/>
<rect x="336.74" y="417.7" width="3.8" height="3.8" fill="#ff0000"/>
<rect x="341.88" y="417.7" width="3.8" height="3.8" fill="#ff0000"/>
<rect x="347.03" y="398.2" width="3.8" height="3.8" fill="#ff0000"/>
<rect x="352.18" y="333.9" width="3.8" height="3.8" fill="#ff0000"/>
<rect x="357.32" y="335.59" width="3.8" height="3.8" fill="#ff0000"/>
<rect x="362.47" y="351.96" width="3.8" height="3.8" fill="#ff0000"/>
<rect x="367.61" y="406.14" width="3.8" height="3.8" fill="#ff0000"/>
<rect x="372.76" y="417.7" width="3.8" height="3.8" fill="#ff0000"/>
<rect x="377.91" y="417.7" width="3.8" height="3.8" fill="#ff0000"/>
<rect x="383.05" y="417.7" width="3.8" height="3.8" fill="#ff0000"/>
<rect x="388.2" y="417.7" width="3.8" height="3.8" fill="#ff0000"/>
<rect x="393.34" y="417.7" width="3.8" height="3.8" fill="#ff0000"/>
<rect x="398.49" y="363.52" width="3.8" height="3.8" fill="#ff0000"/>
<rect x="403.64" y="333.42" width="3.8" height="3.8" fill="#ff0000"/>
<rect x="408.78" y="321.38" width="3.8" height="3.8" fill="#ff0000"/>
<rect x="413.93" y="345.46" width="3.8" height="3.8" fill="#ff0000"/>
<rect x="419.07" y="391.93" width="3.8" height="3.8" fill="#ff0000"/>
<rect x="424.22" y="403.49" width="3.8" height="3.8" fill="#ff0000"/>
<rect x="429.37" y="410.24" width="3.8" height="3.8" fill="#ff0000"/>
<rect x="434.51" y="407.83" width="3.8" height="3.8" fill="#ff0000"/>
<rect x="439.66" y="401.81" width="3.8" height="3.8" fill="#ff0000"/>
<rect x="444.8" y="405.66" width="3.8" height="3.8" fill="#ff0000"/>
<rect x="449.95" y="379.89" width="3.8" height="3.8" fill="#ff0000"/>
<rect x="455.1" y="344.74" width="3.8" height="3.8" fill="#ff0000"/>
<rect x="460.24" y="329.81" width="3.8" height="3.8" fill="#ff0000"/>
<rect x="465.39" y="326.44" width="3.8" height="3.8" fill="#ff0000"/>
<rect x="470.53" y="370.98" width="3.8" height="3.8" fill="#ff0000"/>
<rect x="475.68" y="375.32" width="3.8" height="3.8" fill="#ff0000"/>
<rect x="480.83" y="396.51" width="3.8" height="3.8" fill="#ff0000"/>
<rect x="485.97" y="402.53" width="3.8" height="3.8" fill="#ff0000"/>
<rect x="491.12" y="401.57" width="3.8" height="3.8" fill="#ff0000"/>
<rect x="496.26" y="396.51" width="3.8" height="3.8" fill="#ff0000"/>
<rect x="501.41" y="383.75" width="3.8" height="3.8" fill="#ff0000"/>
<circle cx="323.2" cy="419.6" r="2.2" fill="#0000ff"/>
<circle cx="328.35" cy="419.6" r="2.2" fill="#0000ff"/>
<circle cx="333.49" cy="419.6" r="2.2" fill="#0000ff"/>
<circle cx="338.64" cy="419.6" r="2.2" fill="#0000ff"/>
<circle cx="343.78" cy="419.6" r="2.2" fill="#0000ff"/>
<circle cx="348.93" cy="419.6" r="2.2" fill="#0000ff"/>
<circle cx="354.08" cy="419.6" r="2.2" fill="#0000ff"/>
<circle cx="359.22" cy="419.6" r="2.2" fill="#0000ff"/>
<circle cx="364.37" cy="419.6" r="2.2" fill="#0000ff"/>
<circle cx="369.51" cy="419.6" r="2.2" fill="#0000ff"/>
<circle cx="374.66" cy="419.6" r="2.2" fill="#0000ff"/>
<circle cx="379.81" cy="419.6" r="2.2" fill="#0000ff"/>
<circle cx="384.95" cy="419.6" r="2.2" fill="#0000ff"/>
<circle cx="390.1" cy="419.6" r="2.2" fill="#0000ff"/>
<circle cx="395.24" cy="419.6" r="2.2" fill="#0000ff"/>
<circle cx="400.39" cy="419.6" r="2.2" fill="#0000ff"/>
<circle cx="405.54" cy="419.6" r="2.2" fill="#0000ff"/>
<circle cx="410.68" cy="419.6" r="2.2" fill="#0000ff"/>
<circle cx="415.83" cy="419.6" r="2.2" fill="#0000ff"/>
<circle cx="420.97" cy="419.6" r="2.2" fill="#0000ff"/>
<circle cx="426.12" cy="419.6" r="2.2" fill="#0000ff"/>
<circle cx="431.27" cy="419.6" r="2.2" fill="#0000ff"/>
<circle cx="436.41" cy="419.6" r="2.2" fill="#0000ff"/>
<circle cx="441.56" cy="419.6" r="2.2" fill="#0000ff"/>
<circle cx="446.7" cy="419.6" r="2.2" fill="#0000ff"/>
<circle cx="451.85" cy="419.6" r="2.2" fill="#0000ff"/>
<circle cx="457" cy="419.6" r="2.2" fill="#0000ff"/>
<circle cx="462.14" cy="419.6" r="2.2" fill="#0000ff"/>
<circle cx="467.29" cy="419.6" r="2.2" fill="#0000ff"/>
<circle cx="472.43" cy="419.6" r="2.2" fill="#0000ff"/>
<circle cx="477.58" cy="419.6" r="2.2" fill="#0000ff"/>
<circle cx="482.73" cy="419.6" r="2.2" fill="#0000ff"/>
<circle cx="487.87" cy="419.6" r="2.2" fill="#0000ff"/>
<circle cx="493.02" cy="419.6" r="2.2" fill="#0000ff"/>
<circle cx="498.16" cy="419.6" r="2.2" fill="#0000ff"/>
<circle cx="503.31" cy="419.6" r="2.2" fill="#0000ff"/>
<path d="M509,380 H511 V407.5 H509" fill="none" stroke="#555" stroke-width="0.9"/>
<line x1="511" y1="394" x2="512.6" y2="394" stroke="#555" stroke-width="0.8"/>
<circle cx="518.5" cy="393.2" r="1.35" fill="#111"/>
<circle cx="522.5" cy="393.2" r="1.35" fill="#111"/>
<path d="M526.2,380 H528.2 V413.5 H526.2" fill="none" stroke="#555" stroke-width="0.9"/>
<line x1="528.2" y1="396.5" x2="529.8" y2="396.5" stroke="#555" stroke-width="0.8"/>
<circle cx="537.8" cy="396.2" r="1.35" fill="#111"/>
<circle cx="541.8" cy="396.2" r="1.35" fill="#111"/>
<text x="10" y="479.2" font-size="11.5" font-weight="bold" text-anchor="start" fill="#000" textLength="6.4" lengthAdjust="spacingAndGlyphs">E</text>
<defs>
<linearGradient id="gctl" x1="0" y1="0" x2="0" y2="1">
<stop offset="0" stop-color="#d2dae0"/><stop offset="0.2" stop-color="#c0cad4"/><stop offset="0.35" stop-color="#c2cbd0"/><stop offset="0.5" stop-color="#c6cbc8"/><stop offset="0.75" stop-color="#bfc6c8"/><stop offset="1" stop-color="#c8cccb"/></linearGradient>
<linearGradient id="gmod" x1="0" y1="0" x2="0" y2="1">
<stop offset="0" stop-color="#cdd5dc"/><stop offset="0.25" stop-color="#b0bac3"/><stop offset="0.5" stop-color="#aeb4b6"/><stop offset="0.68" stop-color="#b4afa8"/><stop offset="1" stop-color="#b8b3ab"/></linearGradient>
<radialGradient id="gnod" cx="0.45" cy="0.4" r="0.6">
<stop offset="0" stop-color="#e4dcd3"/><stop offset="0.5" stop-color="#d6cec5" stop-opacity="0.9"/><stop offset="1" stop-color="#b5b0a9" stop-opacity="0"/></radialGradient>
<radialGradient id="gnodp" cx="0.45" cy="0.4" r="0.6">
<stop offset="0" stop-color="#eadbcf"/><stop offset="0.5" stop-color="#ddcdc0" stop-opacity="0.9"/><stop offset="1" stop-color="#b5aea6" stop-opacity="0"/></radialGradient>
<linearGradient id="gthz" x1="0" y1="0" x2="0" y2="1">
<stop offset="0" stop-color="#bcc4ca"/><stop offset="0.35" stop-color="#a4aaaa"/><stop offset="0.7" stop-color="#acaca4"/><stop offset="1" stop-color="#c4c0b6"/></linearGradient>
<linearGradient id="gbg1" x1="0" y1="0" x2="1" y2="0">
<stop offset="0" stop-color="#4e4e4a"/><stop offset="0.1" stop-color="#3e3e3b"/><stop offset="0.25" stop-color="#2a2a28"/><stop offset="0.6" stop-color="#2c2c2a"/><stop offset="1" stop-color="#3c3c3a"/></linearGradient>
<linearGradient id="gbg2" x1="0" y1="0" x2="1" y2="0">
<stop offset="0" stop-color="#2e2e2c"/><stop offset="0.3" stop-color="#1a1a19"/><stop offset="1" stop-color="#1c1c1b"/></linearGradient>
<linearGradient id="gbg3" x1="0" y1="0" x2="1" y2="0">
<stop offset="0" stop-color="#262624"/><stop offset="0.5" stop-color="#1c1c1b"/><stop offset="1" stop-color="#2a2a28"/></linearGradient>
<filter id="tex" x="-5%" y="-2%" width="110%" height="104%">
<feTurbulence type="fractalNoise" baseFrequency="0.1 0.14" numOctaves="2" seed="11" result="n0"/>
<feDisplacementMap in="SourceGraphic" in2="n0" scale="3.6" xChannelSelector="R" yChannelSelector="G" result="src"/>
<feTurbulence type="fractalNoise" baseFrequency="0.16 0.07" numOctaves="3" seed="7" result="n"/>
<feColorMatrix in="n" type="matrix" values="0 0 0 0 1  0 0 0 0 1  0 0 0 0 1  1.4 0 0 0 -0.7" result="w"/>
<feComposite in="w" in2="src" operator="in" result="wm"/>
<feColorMatrix in="n" type="matrix" values="0 0 0 0 0.38  0 0 0 0 0.41  0 0 0 0 0.45  -2.2 0 0 0 0.98" result="dk"/>
<feComposite in="dk" in2="src" operator="in" result="dm"/>
<feMerge><feMergeNode in="src"/><feMergeNode in="dm"/><feMergeNode in="wm"/></feMerge>
</filter>
<filter id="nodf" x="-10%" y="-10%" width="120%" height="120%">
<feGaussianBlur stdDeviation="0.45"/>
</filter>
</defs>
<rect x="23.5" y="526.9" width="22.5" height="184" fill="url(#gbg1)"/>
<rect x="57.9" y="526.9" width="35.4" height="183.4" fill="url(#gbg2)"/>
<rect x="103.8" y="526.9" width="27.5" height="183.2" fill="url(#gbg3)"/>
<path d="M34.5,527.5 L33.6,530 L32.6,540 L32.2,547 L28.8,555 L27.9,565 L26,575 L25.4,585 L27,595 L27.5,603 L27.9,610 L28,620 L27.6,630 L28.9,650 L29.6,670 L29.6,690 L28.5,698 L29.2,704 L31,706 L38,706 L40,704 L40.2,698 L37.9,690 L37.2,670 L36.2,650 L34.4,630 L35,620 L35.9,610 L36.2,603 L35.6,595 L35.6,585 L36.6,575 L38.7,565 L40.6,555 L41.5,547 L41.3,540 L41.2,530 L41.1,527.5 Z" fill="url(#gctl)" filter="url(#tex)"/>
<path d="M66,528.5 L64.2,531 L64.2,535 L67.5,545 L68.2,555 L68.9,570 L68.9,585 L68.2,600 L66.9,615 L64.6,630 L61.9,645 L66,660 L66.7,675 L67.4,690 L68.8,700 L70,703 L84,703 L86,700 L88.7,690 L90.1,675 L88,660 L84.6,645 L82.5,630 L83.6,615 L82.7,600 L82.1,585 L82.1,570 L82.7,555 L82.1,545 L80.8,535 L78.1,531 L76,528.5 Z" fill="url(#gmod)" filter="url(#tex)"/>
<g filter="url(#nodf)">
<circle cx="67.3" cy="647" r="5.2" fill="url(#gnodp)"/>
<circle cx="74" cy="643.5" r="4.68" fill="url(#gnod)"/>
<circle cx="80.2" cy="642.4" r="3.9" fill="url(#gnod)"/>
<circle cx="70.6" cy="654.2" r="4.68" fill="url(#gnod)"/>
<circle cx="78.5" cy="652.5" r="5.2" fill="url(#gnod)"/>
<circle cx="72.9" cy="662.7" r="5.2" fill="url(#gnod)"/>
<circle cx="81.9" cy="661.5" r="5.2" fill="url(#gnod)"/>
<circle cx="83" cy="672.8" r="6.5" fill="url(#gnodp)"/>
<circle cx="72.9" cy="669.4" r="4.68" fill="url(#gnod)"/>
<circle cx="76.3" cy="677.3" r="4.68" fill="url(#gnod)"/>
<circle cx="70.6" cy="684" r="4.55" fill="url(#gnod)"/>
<circle cx="79.7" cy="683" r="4.68" fill="url(#gnod)"/>
<circle cx="85.2" cy="680.6" r="4.16" fill="url(#gnod)"/>
<circle cx="75.2" cy="690.8" r="5.2" fill="url(#gnod)"/>
<circle cx="81.9" cy="693.1" r="5.2" fill="url(#gnod)"/>
<circle cx="71.8" cy="697.6" r="4.55" fill="url(#gnod)"/>
<circle cx="65.5" cy="635" r="3.64" fill="url(#gnod)"/>
<circle cx="75" cy="633" r="3.9" fill="url(#gnod)"/>
<circle cx="81" cy="630" r="3.38" fill="url(#gnod)"/>
<circle cx="69.5" cy="651" r="1.2" fill="#8f8c88" fill-opacity="0.45"/>
<circle cx="77" cy="648" r="1.1" fill="#8f8c88" fill-opacity="0.45"/>
<circle cx="75.5" cy="659" r="1.3" fill="#8f8c88" fill-opacity="0.45"/>
<circle cx="80" cy="668" r="1.2" fill="#8f8c88" fill-opacity="0.45"/>
<circle cx="74" cy="674" r="1.1" fill="#8f8c88" fill-opacity="0.45"/>
<circle cx="78" cy="688" r="1.2" fill="#8f8c88" fill-opacity="0.45"/>
<circle cx="73" cy="694" r="1.1" fill="#8f8c88" fill-opacity="0.45"/>
<circle cx="83" cy="686" r="1" fill="#8f8c88" fill-opacity="0.45"/>
</g>
<path d="M84.6,613 C88,622 87.5,630 85.5,638 C84,645 85,650 87,654 M85,657 C88,659 89,663 90,666 C91,669 92,670 93,671" fill="none" stroke="#eeeeee" stroke-width="0.9"/>
<path d="M91,568 C89.5,574 89.8,580 90.5,585" fill="none" stroke="#d8d8d8" stroke-width="0.8"/>
<path d="M107.3,527.5 L109.9,535 L112.5,545 L112.5,555 L110.6,565 L107.9,575 L105.9,585 L106.6,595 L107.3,605 L108.3,615 L109,630 L111.7,645 L113.8,660 L114.5,675 L113.8,685 L113.8,695 L115.2,703 L117,705 L127,705 L129.6,703 L128.2,695 L126.9,685 L124.8,675 L122.7,660 L120.7,645 L118.6,630 L117.9,615 L117.2,605 L117.8,595 L119.8,585 L121.8,575 L123.1,565 L123.8,555 L123.8,545 L121.1,535 L123.1,527.5 Z" fill="url(#gthz)" filter="url(#tex)"/>
<path d="M36,530 C34,540 33,548 31,556 C30,562 29,570 29.5,578" fill="none" stroke="#f4f7f9" stroke-opacity="0.45" stroke-width="0.9"/>
<path d="M39,535 C37,545 36,552 34.5,560" fill="none" stroke="#f4f7f9" stroke-opacity="0.45" stroke-width="0.9"/>
<path d="M30,585 C31,595 30,605 31,615 C32,628 31,640 32,652" fill="none" stroke="#f4f7f9" stroke-opacity="0.45" stroke-width="0.9"/>
<path d="M34,590 C35,600 33.5,612 34,624" fill="none" stroke="#f4f7f9" stroke-opacity="0.45" stroke-width="0.9"/>
<path d="M31,660 C32,672 31,684 32,696" fill="none" stroke="#f4f7f9" stroke-opacity="0.45" stroke-width="0.9"/>
<path d="M66,533 C70,540 72,548 73,556 C74,566 72,576 73,588" fill="none" stroke="#f4f7f9" stroke-opacity="0.45" stroke-width="0.9"/>
<path d="M78,540 C79,552 78,562 79,574 C80,586 78,598 79,610" fill="none" stroke="#f4f7f9" stroke-opacity="0.45" stroke-width="0.9"/>
<path d="M70,598 C71,606 70,614 69,622" fill="none" stroke="#f4f7f9" stroke-opacity="0.45" stroke-width="0.9"/>
<path d="M116,530 C117,540 118,548 116,558 C114,568 112,576 110,586" fill="none" stroke="#f4f7f9" stroke-opacity="0.45" stroke-width="0.9"/>
<path d="M120,548 C121,556 119,566 118,574" fill="none" stroke="#f4f7f9" stroke-opacity="0.45" stroke-width="0.9"/>
<path d="M112,600 C113,612 112,624 114,636 C115,648 117,660 118,672" fill="none" stroke="#f4f7f9" stroke-opacity="0.45" stroke-width="0.9"/>
<path d="M117,645 C119,655 120,665 121,678 C122,688 121,696 124,702" fill="none" stroke="#f4f7f9" stroke-opacity="0.45" stroke-width="0.9"/>
<rect x="30.4" y="707.2" width="14.4" height="2.9" fill="#f5b400"/>
<rect x="72.9" y="704.5" width="18.2" height="2.9" fill="#f5b400"/>
<rect x="109.6" y="706.1" width="19.3" height="2.9" fill="#f5b400"/>
<text x="24.1" y="521.8" font-size="8.4" font-weight="bold" text-anchor="start" fill="#000" textLength="13.2" lengthAdjust="spacingAndGlyphs">Bar</text>
<text x="39.4" y="521.8" font-size="8.4" font-weight="bold" text-anchor="start" fill="#000">:</text>
<text x="48.6" y="521.8" font-size="8.4" font-weight="bold" text-anchor="start" fill="#000" textLength="16.4" lengthAdjust="spacingAndGlyphs">1cm</text>
<text x="19.4" y="719.7" font-size="8.8" font-weight="bold" text-anchor="start" fill="#000" textLength="30.7" lengthAdjust="spacingAndGlyphs">Control</text>
<text x="62.5" y="720.3" font-size="8.8" font-weight="bold" text-anchor="start" fill="#000" textLength="26.7" lengthAdjust="spacingAndGlyphs">Model</text>
<text x="107.2" y="719.7" font-size="9.1" font-weight="bold" text-anchor="start" fill="#000" textLength="19.6" lengthAdjust="spacingAndGlyphs">THZ2</text>
<line x1="193.7" y1="564.3" x2="193.7" y2="658.7" stroke="#000" stroke-width="1.4"/>
<line x1="190.3" y1="658" x2="193.7" y2="658" stroke="#000" stroke-width="1.2"/>
<text x="190.4" y="660.3" font-size="6.6" font-weight="bold" text-anchor="end" fill="#000">0</text>
<line x1="190.3" y1="643.6" x2="193.7" y2="643.6" stroke="#000" stroke-width="1.2"/>
<text x="190.4" y="645.9" font-size="6.6" font-weight="bold" text-anchor="end" fill="#000">2</text>
<line x1="190.3" y1="629.2" x2="193.7" y2="629.2" stroke="#000" stroke-width="1.2"/>
<text x="190.4" y="631.5" font-size="6.6" font-weight="bold" text-anchor="end" fill="#000">4</text>
<line x1="190.3" y1="614.8" x2="193.7" y2="614.8" stroke="#000" stroke-width="1.2"/>
<text x="190.4" y="617.1" font-size="6.6" font-weight="bold" text-anchor="end" fill="#000">6</text>
<line x1="190.3" y1="600.4" x2="193.7" y2="600.4" stroke="#000" stroke-width="1.2"/>
<text x="190.4" y="602.7" font-size="6.6" font-weight="bold" text-anchor="end" fill="#000">8</text>
<line x1="190.3" y1="586" x2="193.7" y2="586" stroke="#000" stroke-width="1.2"/>
<text x="190.4" y="588.3" font-size="6.6" font-weight="bold" text-anchor="end" fill="#000">10</text>
<line x1="190.3" y1="571.6" x2="193.7" y2="571.6" stroke="#000" stroke-width="1.2"/>
<text x="190.4" y="573.9" font-size="6.6" font-weight="bold" text-anchor="end" fill="#000">12</text>
<line x1="193.7" y1="658" x2="335" y2="658" stroke="#000" stroke-width="1.4"/>
<rect x="202" y="575.2" width="31" height="82.8" fill="#0000ff"/>
<line x1="217.5" y1="575.2" x2="217.5" y2="571.24" stroke="#0000ff" stroke-width="0.9"/>
<line x1="210" y1="571.24" x2="225" y2="571.24" stroke="#0000ff" stroke-width="0.9"/>
<line x1="217.5" y1="658" x2="217.5" y2="660.6" stroke="#000" stroke-width="1.1"/>
<text x="217.5" y="668.2" font-size="7.1" font-weight="bold" text-anchor="middle" fill="#000">Control</text>
<rect x="248.8" y="593.92" width="31.2" height="64.08" fill="#ff0000"/>
<line x1="264.4" y1="593.92" x2="264.4" y2="592.98" stroke="#ff0000" stroke-width="0.9"/>
<line x1="256.9" y1="592.98" x2="271.9" y2="592.98" stroke="#ff0000" stroke-width="0.9"/>
<line x1="264.4" y1="658" x2="264.4" y2="660.6" stroke="#000" stroke-width="1.1"/>
<text x="264.4" y="668.2" font-size="7.1" font-weight="bold" text-anchor="middle" fill="#000">Model</text>
<rect x="295.5" y="597.16" width="31.2" height="60.84" fill="#00c000"/>
<line x1="311.1" y1="597.16" x2="311.1" y2="595.72" stroke="#00c000" stroke-width="0.9"/>
<line x1="303.6" y1="595.72" x2="318.6" y2="595.72" stroke="#00c000" stroke-width="0.9"/>
<line x1="311.1" y1="658" x2="311.1" y2="660.6" stroke="#000" stroke-width="1.1"/>
<text x="311.1" y="668.2" font-size="7.1" font-weight="bold" text-anchor="middle" fill="#000">THZ2</text>
<path d="M216,566.2 V564.4 H260.4 V566.2" fill="none" stroke="#555" stroke-width="0.8"/>
<line x1="238.2" y1="564.4" x2="238.2" y2="562.8" stroke="#555" stroke-width="0.8"/>
<path d="M264.4,566.2 V564.4 H312.4 V566.2" fill="none" stroke="#555" stroke-width="0.8"/>
<line x1="288.4" y1="564.4" x2="288.4" y2="562.8" stroke="#555" stroke-width="0.8"/>
<circle cx="236.9" cy="556.9" r="1.7" fill="#111"/>
<circle cx="242.7" cy="556.9" r="1.7" fill="#111"/>
<text x="284.9" y="559.1" font-size="8.2" font-weight="bold" text-anchor="start" fill="#000" textLength="11.2" lengthAdjust="spacingAndGlyphs">NS</text>
<text transform="translate(177.9,610.6) rotate(-90)" font-size="7.8" font-weight="bold" text-anchor="middle" textLength="71" lengthAdjust="spacingAndGlyphs">Colon Length  (cm)</text>
<line x1="396.9" y1="570.4" x2="396.9" y2="658.8" stroke="#000" stroke-width="1.4"/>
<line x1="393.5" y1="658.1" x2="396.9" y2="658.1" stroke="#000" stroke-width="1.2"/>
<text x="391.8" y="660.4" font-size="6.6" font-weight="bold" text-anchor="end" fill="#000">0</text>
<line x1="393.5" y1="640.7" x2="396.9" y2="640.7" stroke="#000" stroke-width="1.2"/>
<text x="391.8" y="643" font-size="6.6" font-weight="bold" text-anchor="end" fill="#000">10</text>
<line x1="393.5" y1="623.3" x2="396.9" y2="623.3" stroke="#000" stroke-width="1.2"/>
<text x="391.8" y="625.6" font-size="6.6" font-weight="bold" text-anchor="end" fill="#000">20</text>
<line x1="393.5" y1="605.9" x2="396.9" y2="605.9" stroke="#000" stroke-width="1.2"/>
<text x="391.8" y="608.2" font-size="6.6" font-weight="bold" text-anchor="end" fill="#000">30</text>
<line x1="393.5" y1="588.5" x2="396.9" y2="588.5" stroke="#000" stroke-width="1.2"/>
<text x="391.8" y="590.8" font-size="6.6" font-weight="bold" text-anchor="end" fill="#000">40</text>
<line x1="393.5" y1="571.1" x2="396.9" y2="571.1" stroke="#000" stroke-width="1.2"/>
<text x="391.8" y="573.4" font-size="6.6" font-weight="bold" text-anchor="end" fill="#000">50</text>
<line x1="396.9" y1="658.1" x2="526.8" y2="658.1" stroke="#000" stroke-width="1.4"/>
<line x1="423.1" y1="658.1" x2="423.1" y2="660.7" stroke="#000" stroke-width="1.1"/>
<line x1="462.4" y1="658.1" x2="462.4" y2="660.7" stroke="#000" stroke-width="1.1"/>
<line x1="501.7" y1="658.1" x2="501.7" y2="660.7" stroke="#000" stroke-width="1.1"/>
<text x="423.1" y="669.2" font-size="7.1" font-weight="bold" text-anchor="middle" fill="#000">Control</text>
<text x="462.4" y="669.2" font-size="7.1" font-weight="bold" text-anchor="middle" fill="#000">Model</text>
<text x="501.7" y="669.2" font-size="7.1" font-weight="bold" text-anchor="middle" fill="#000">THZ2</text>
<rect x="449.3" y="598.9" width="26.2" height="35.1" fill="#ff0000"/>
<rect x="449.3" y="634" width="26.2" height="24.1" fill="#0000ff"/>
<rect x="488.6" y="637.2" width="26.4" height="7.4" fill="#ff0000"/>
<rect x="488.6" y="644.6" width="26.4" height="13.5" fill="#0000ff"/>
<line x1="462.4" y1="598.9" x2="462.4" y2="590.6" stroke="#ff5050" stroke-width="0.9"/>
<line x1="455.8" y1="590.6" x2="469" y2="590.6" stroke="#ff5050" stroke-width="0.9"/>
<line x1="462.4" y1="634" x2="462.4" y2="626" stroke="#7030c0" stroke-width="0.9"/>
<line x1="455.8" y1="626" x2="469" y2="626" stroke="#7030c0" stroke-width="0.9"/>
<line x1="501.7" y1="637.2" x2="501.7" y2="631.5" stroke="#ff5050" stroke-width="0.9"/>
<line x1="495.1" y1="631.5" x2="508.3" y2="631.5" stroke="#ff5050" stroke-width="0.9"/>
<line x1="501.7" y1="644.6" x2="501.7" y2="639.4" stroke="#7030c0" stroke-width="0.9"/>
<line x1="495.1" y1="639.4" x2="508.3" y2="639.4" stroke="#7030c0" stroke-width="0.9"/>
<rect x="387.5" y="532" width="9.4" height="4.6" fill="#ff0000"/>
<rect x="387.5" y="543.9" width="9.4" height="4.7" fill="#0000ff"/>
<text x="402.3" y="537" font-size="7" text-anchor="start" fill="#222" textLength="19.3" lengthAdjust="spacingAndGlyphs">&gt;2mm</text>
<text x="402.3" y="549" font-size="7" text-anchor="start" fill="#222" textLength="19.3" lengthAdjust="spacingAndGlyphs">&lt;2mm</text>
<path d="M418.7,576 V574.4 H458.3 V576" fill="none" stroke="#555" stroke-width="0.8"/>
<line x1="438.5" y1="574.4" x2="438.5" y2="572.8" stroke="#555" stroke-width="0.8"/>
<path d="M463.2,576 V574.4 H505.8 V576" fill="none" stroke="#555" stroke-width="0.8"/>
<line x1="484.5" y1="574.4" x2="484.5" y2="572.8" stroke="#555" stroke-width="0.8"/>
<circle cx="435.7" cy="566.3" r="1.45" fill="#111"/>
<circle cx="440.9" cy="566.3" r="1.45" fill="#111"/>
<circle cx="481.5" cy="566.6" r="1.45" fill="#111"/>
<circle cx="486.7" cy="566.6" r="1.45" fill="#111"/>
<text transform="translate(380.6,615) rotate(-90)" font-size="7.1" font-weight="bold" text-anchor="middle" textLength="59.3" lengthAdjust="spacingAndGlyphs">Number of Tumor</text>
</svg>
</body></html>
